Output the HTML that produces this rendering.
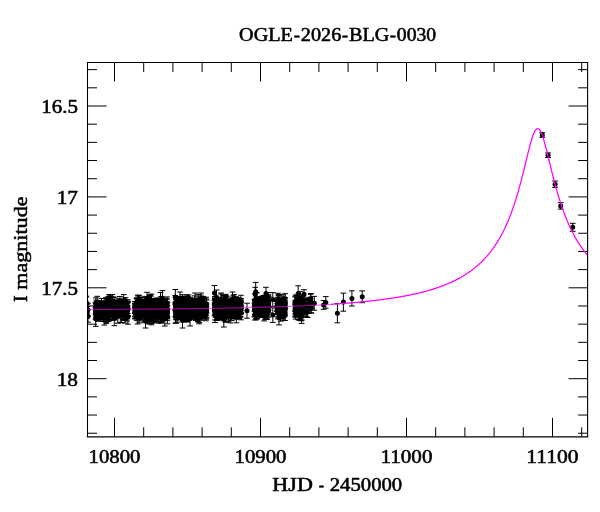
<!DOCTYPE html>
<html><head><meta charset="utf-8"><title>OGLE-2026-BLG-0030</title>
<style>html,body{margin:0;padding:0;background:#fff}svg{display:block}</style></head>
<body>
<svg width="600" height="512" viewBox="0 0 600 512">
<rect width="600" height="512" fill="#fff"/>
<path d="M114.50 436.8v-19M114.50 62.5v19M143.70 436.8v-9.5M143.70 62.5v9.5M172.90 436.8v-9.5M172.90 62.5v9.5M202.10 436.8v-9.5M202.10 62.5v9.5M231.30 436.8v-9.5M231.30 62.5v9.5M260.50 436.8v-19M260.50 62.5v19M289.70 436.8v-9.5M289.70 62.5v9.5M318.90 436.8v-9.5M318.90 62.5v9.5M348.10 436.8v-9.5M348.10 62.5v9.5M377.30 436.8v-9.5M377.30 62.5v9.5M406.50 436.8v-19M406.50 62.5v19M435.70 436.8v-9.5M435.70 62.5v9.5M464.90 436.8v-9.5M464.90 62.5v9.5M494.10 436.8v-9.5M494.10 62.5v9.5M523.30 436.8v-9.5M523.30 62.5v9.5M552.50 436.8v-19M552.50 62.5v19M581.70 436.8v-9.5M581.70 62.5v9.5M87.5 69.64h9.5M587.6 69.64h-9.5M87.5 87.82h9.5M587.6 87.82h-9.5M87.5 106.00h19M587.6 106.00h-19M87.5 124.18h9.5M587.6 124.18h-9.5M87.5 142.36h9.5M587.6 142.36h-9.5M87.5 160.54h9.5M587.6 160.54h-9.5M87.5 178.72h9.5M587.6 178.72h-9.5M87.5 196.90h19M587.6 196.90h-19M87.5 215.08h9.5M587.6 215.08h-9.5M87.5 233.26h9.5M587.6 233.26h-9.5M87.5 251.44h9.5M587.6 251.44h-9.5M87.5 269.62h9.5M587.6 269.62h-9.5M87.5 287.80h19M587.6 287.80h-19M87.5 305.98h9.5M587.6 305.98h-9.5M87.5 324.16h9.5M587.6 324.16h-9.5M87.5 342.34h9.5M587.6 342.34h-9.5M87.5 360.52h9.5M587.6 360.52h-9.5M87.5 378.70h19M587.6 378.70h-19M87.5 396.88h9.5M587.6 396.88h-9.5M87.5 415.06h9.5M587.6 415.06h-9.5M87.5 433.24h9.5M587.6 433.24h-9.5" stroke="#000" stroke-width="1" fill="none"/>
<g clip-path="url(#cp)">
<path d="M85.8 304.5v12.5M83.0 304.5h5.7M83.0 317.0h5.7M85.9 302.8v13.2M83.1 302.8h5.7M83.1 316.0h5.7M86.5 302.8v10.1M83.6 302.8h5.7M83.6 313.0h5.7M86.5 297.0v12.1M83.6 297.0h5.7M83.6 309.1h5.7M86.1 304.2v12.6M83.3 304.2h5.7M83.3 316.8h5.7M86.0 296.1v11.8M83.2 296.1h5.7M83.2 307.9h5.7M86.1 304.6v10.6M83.3 304.6h5.7M83.3 315.2h5.7M85.7 304.4v11.2M82.9 304.4h5.7M82.9 315.6h5.7M87.4 304.1v11.6M84.5 304.1h5.7M84.5 315.7h5.7M87.9 303.2v13.0M85.1 303.2h5.7M85.1 316.3h5.7M87.2 306.5v11.7M84.3 306.5h5.7M84.3 318.1h5.7M88.0 309.8v12.4M85.1 309.8h5.7M85.1 322.2h5.7M95.7 302.8v12.1M92.9 302.8h5.7M92.9 314.9h5.7M96.5 300.2v10.3M93.6 300.2h5.7M93.6 310.4h5.7M95.8 297.9v10.6M93.0 297.9h5.7M93.0 308.5h5.7M95.6 307.5v11.9M92.8 307.5h5.7M92.8 319.4h5.7M96.4 302.9v10.9M93.6 302.9h5.7M93.6 313.7h5.7M95.7 302.7v10.8M92.8 302.7h5.7M92.8 313.5h5.7M95.7 303.6v10.9M92.8 303.6h5.7M92.8 314.5h5.7M96.1 304.1v10.7M93.2 304.1h5.7M93.2 314.8h5.7M95.7 306.0v11.1M92.9 306.0h5.7M92.9 317.1h5.7M96.0 302.3v12.3M93.1 302.3h5.7M93.1 314.5h5.7M96.3 306.4v9.7M93.4 306.4h5.7M93.4 316.2h5.7M97.9 302.7v12.8M95.0 302.7h5.7M95.0 315.6h5.7M97.7 304.5v11.7M94.9 304.5h5.7M94.9 316.3h5.7M97.7 303.7v12.9M94.9 303.7h5.7M94.9 316.6h5.7M97.7 303.9v10.3M94.9 303.9h5.7M94.9 314.2h5.7M97.2 305.7v10.2M94.3 305.7h5.7M94.3 315.8h5.7M97.1 296.3v13.7M94.3 296.3h5.7M94.3 310.0h5.7M97.5 305.8v13.0M94.7 305.8h5.7M94.7 318.7h5.7M97.9 306.7v14.6M95.0 306.7h5.7M95.0 321.3h5.7M97.4 302.2v12.6M94.6 302.2h5.7M94.6 314.8h5.7M97.7 307.4v12.1M94.8 307.4h5.7M94.8 319.5h5.7M97.8 300.6v12.0M95.0 300.6h5.7M95.0 312.6h5.7M97.0 307.7v12.6M94.2 307.7h5.7M94.2 320.3h5.7M97.9 303.5v11.9M95.0 303.5h5.7M95.0 315.5h5.7M99.2 303.8v13.7M96.4 303.8h5.7M96.4 317.4h5.7M99.0 303.1v11.3M96.1 303.1h5.7M96.1 314.4h5.7M99.3 305.9v12.0M96.5 305.9h5.7M96.5 317.9h5.7M99.0 300.6v12.6M96.1 300.6h5.7M96.1 313.2h5.7M98.8 303.6v10.7M95.9 303.6h5.7M95.9 314.3h5.7M99.1 308.3v11.4M96.2 308.3h5.7M96.2 319.7h5.7M99.2 303.6v11.5M96.3 303.6h5.7M96.3 315.1h5.7M99.3 305.7v11.7M96.4 305.7h5.7M96.4 317.4h5.7M100.5 302.5v12.9M97.6 302.5h5.7M97.6 315.4h5.7M100.7 305.6v13.3M97.9 305.6h5.7M97.9 319.0h5.7M100.5 309.3v10.8M97.6 309.3h5.7M97.6 320.0h5.7M100.4 304.5v13.3M97.5 304.5h5.7M97.5 317.8h5.7M100.8 309.1v10.9M97.9 309.1h5.7M97.9 320.0h5.7M100.1 306.7v11.0M97.3 306.7h5.7M97.3 317.8h5.7M101.9 302.8v12.9M99.0 302.8h5.7M99.0 315.7h5.7M102.0 301.5v11.2M99.2 301.5h5.7M99.2 312.7h5.7M102.1 304.4v11.4M99.2 304.4h5.7M99.2 315.8h5.7M101.3 303.2v14.8M98.4 303.2h5.7M98.4 318.0h5.7M101.8 306.4v12.3M98.9 306.4h5.7M98.9 318.7h5.7M101.5 298.4v11.8M98.6 298.4h5.7M98.6 310.3h5.7M101.3 302.9v12.5M98.5 302.9h5.7M98.5 315.4h5.7M101.9 307.3v12.4M99.0 307.3h5.7M99.0 319.6h5.7M101.6 302.0v10.0M98.7 302.0h5.7M98.7 312.0h5.7M101.5 301.2v11.8M98.6 301.2h5.7M98.6 312.9h5.7M101.3 304.1v11.0M98.5 304.1h5.7M98.5 315.1h5.7M103.6 305.0v10.2M100.7 305.0h5.7M100.7 315.2h5.7M103.5 300.9v12.6M100.6 300.9h5.7M100.6 313.5h5.7M103.1 303.3v11.4M100.2 303.3h5.7M100.2 314.7h5.7M103.4 308.5v13.0M100.5 308.5h5.7M100.5 321.5h5.7M103.4 306.0v11.8M100.6 306.0h5.7M100.6 317.8h5.7M104.3 303.2v9.4M101.4 303.2h5.7M101.4 312.6h5.7M104.8 308.4v10.7M102.0 308.4h5.7M102.0 319.1h5.7M104.9 306.3v9.9M102.1 306.3h5.7M102.1 316.2h5.7M104.7 303.9v9.6M101.9 303.9h5.7M101.9 313.5h5.7M104.8 308.4v10.3M102.0 308.4h5.7M102.0 318.8h5.7M104.5 303.2v9.2M101.6 303.2h5.7M101.6 312.4h5.7M104.9 305.9v9.9M102.1 305.9h5.7M102.1 315.7h5.7M104.6 301.5v9.7M101.8 301.5h5.7M101.8 311.2h5.7M106.5 301.9v12.6M103.7 301.9h5.7M103.7 314.5h5.7M106.0 303.3v12.1M103.1 303.3h5.7M103.1 315.5h5.7M106.4 310.4v13.1M103.6 310.4h5.7M103.6 323.4h5.7M105.6 298.5v13.8M102.7 298.5h5.7M102.7 312.4h5.7M105.8 297.8v14.8M103.0 297.8h5.7M103.0 312.6h5.7M106.0 306.1v14.8M103.1 306.1h5.7M103.1 320.9h5.7M106.4 304.1v14.8M103.6 304.1h5.7M103.6 318.9h5.7M105.9 301.3v11.7M103.1 301.3h5.7M103.1 313.0h5.7M106.0 307.7v14.7M103.2 307.7h5.7M103.2 322.3h5.7M106.4 299.8v12.8M103.5 299.8h5.7M103.5 312.5h5.7M107.1 305.6v10.3M104.2 305.6h5.7M104.2 316.0h5.7M107.2 305.7v13.6M104.3 305.7h5.7M104.3 319.3h5.7M107.5 297.1v12.3M104.6 297.1h5.7M104.6 309.4h5.7M107.0 304.3v14.8M104.1 304.3h5.7M104.1 319.1h5.7M107.0 301.0v11.3M104.2 301.0h5.7M104.2 312.2h5.7M107.8 303.1v11.3M105.0 303.1h5.7M105.0 314.4h5.7M107.7 298.2v14.1M104.9 298.2h5.7M104.9 312.3h5.7M107.6 307.2v12.1M104.8 307.2h5.7M104.8 319.4h5.7M107.1 302.8v12.3M104.3 302.8h5.7M104.3 315.1h5.7M107.9 299.2v11.0M105.0 299.2h5.7M105.0 310.2h5.7M109.1 294.8v14.8M106.2 294.8h5.7M106.2 309.6h5.7M109.1 308.0v12.8M106.2 308.0h5.7M106.2 320.8h5.7M109.2 297.8v14.8M106.3 297.8h5.7M106.3 312.6h5.7M108.4 309.1v12.5M105.6 309.1h5.7M105.6 321.6h5.7M108.8 296.7v12.8M105.9 296.7h5.7M105.9 309.5h5.7M109.1 297.3v14.7M106.3 297.3h5.7M106.3 312.0h5.7M108.9 299.1v12.7M106.1 299.1h5.7M106.1 311.8h5.7M108.8 302.9v12.6M106.0 302.9h5.7M106.0 315.5h5.7M108.5 302.2v12.0M105.6 302.2h5.7M105.6 314.2h5.7M108.6 302.0v14.5M105.7 302.0h5.7M105.7 316.4h5.7M108.8 303.2v12.5M106.0 303.2h5.7M106.0 315.6h5.7M108.9 306.3v12.7M106.1 306.3h5.7M106.1 318.9h5.7M110.3 295.1v14.1M107.4 295.1h5.7M107.4 309.2h5.7M110.7 296.9v12.7M107.8 296.9h5.7M107.8 309.6h5.7M110.5 297.5v14.7M107.6 297.5h5.7M107.6 312.2h5.7M110.2 299.1v14.8M107.4 299.1h5.7M107.4 313.9h5.7M110.1 304.7v12.9M107.3 304.7h5.7M107.3 317.5h5.7M110.3 294.6v14.8M107.4 294.6h5.7M107.4 309.4h5.7M110.8 303.3v14.1M107.9 303.3h5.7M107.9 317.4h5.7M110.1 302.2v14.8M107.2 302.2h5.7M107.2 317.0h5.7M110.5 296.7v12.8M107.7 296.7h5.7M107.7 309.5h5.7M110.0 305.0v14.8M107.2 305.0h5.7M107.2 319.8h5.7M110.6 297.0v13.7M107.8 297.0h5.7M107.8 310.7h5.7M110.3 294.5v14.8M107.4 294.5h5.7M107.4 309.3h5.7M110.0 307.2v12.7M107.2 307.2h5.7M107.2 319.9h5.7M110.6 296.9v12.8M107.7 296.9h5.7M107.7 309.8h5.7M110.6 305.8v13.6M107.8 305.8h5.7M107.8 319.5h5.7M111.6 303.8v10.8M108.7 303.8h5.7M108.7 314.6h5.7M111.7 304.0v10.3M108.8 304.0h5.7M108.8 314.3h5.7M111.4 303.2v11.7M108.6 303.2h5.7M108.6 314.9h5.7M112.0 301.8v10.4M109.2 301.8h5.7M109.2 312.2h5.7M111.9 301.7v11.7M109.1 301.7h5.7M109.1 313.5h5.7M112.0 299.2v11.5M109.2 299.2h5.7M109.2 310.7h5.7M111.7 301.8v11.1M108.8 301.8h5.7M108.8 312.9h5.7M111.7 303.9v11.6M108.8 303.9h5.7M108.8 315.5h5.7M111.4 302.5v11.1M108.5 302.5h5.7M108.5 313.5h5.7M112.2 303.1v10.9M109.4 303.1h5.7M109.4 313.9h5.7M112.9 297.0v13.1M110.0 297.0h5.7M110.0 310.0h5.7M113.1 303.9v13.0M110.2 303.9h5.7M110.2 316.8h5.7M113.6 301.8v13.3M110.8 301.8h5.7M110.8 315.1h5.7M112.7 304.8v10.7M109.9 304.8h5.7M109.9 315.4h5.7M113.5 306.6v13.7M110.6 306.6h5.7M110.6 320.3h5.7M114.4 302.8v12.4M111.6 302.8h5.7M111.6 315.2h5.7M114.8 300.3v13.2M112.0 300.3h5.7M112.0 313.5h5.7M115.0 302.8v13.9M112.1 302.8h5.7M112.1 316.7h5.7M114.2 302.4v13.6M111.3 302.4h5.7M111.3 315.9h5.7M114.4 306.6v13.2M111.6 306.6h5.7M111.6 319.8h5.7M114.4 304.9v11.4M111.5 304.9h5.7M111.5 316.4h5.7M115.0 305.1v12.6M112.1 305.1h5.7M112.1 317.7h5.7M114.9 297.2v12.2M112.1 297.2h5.7M112.1 309.4h5.7M114.9 301.3v9.9M112.1 301.3h5.7M112.1 311.2h5.7M114.4 306.0v13.1M111.5 306.0h5.7M111.5 319.1h5.7M114.8 302.5v13.6M112.0 302.5h5.7M112.0 316.1h5.7M115.9 304.0v10.5M113.0 304.0h5.7M113.0 314.5h5.7M116.4 304.1v9.6M113.6 304.1h5.7M113.6 313.7h5.7M116.2 308.2v9.6M113.3 308.2h5.7M113.3 317.8h5.7M116.3 302.0v9.5M113.4 302.0h5.7M113.4 311.5h5.7M115.6 306.2v10.7M112.7 306.2h5.7M112.7 316.8h5.7M115.8 301.9v10.0M112.9 301.9h5.7M112.9 311.8h5.7M116.0 299.9v10.6M113.2 299.9h5.7M113.2 310.5h5.7M117.4 304.0v12.1M114.6 304.0h5.7M114.6 316.1h5.7M117.9 304.4v11.8M115.0 304.4h5.7M115.0 316.2h5.7M117.5 301.0v14.1M114.6 301.0h5.7M114.6 315.1h5.7M117.8 300.5v14.5M114.9 300.5h5.7M114.9 315.0h5.7M117.8 310.1v13.0M115.0 310.1h5.7M115.0 323.2h5.7M118.8 303.4v13.4M116.0 303.4h5.7M116.0 316.8h5.7M119.0 305.3v11.6M116.1 305.3h5.7M116.1 316.9h5.7M119.1 298.7v14.0M116.2 298.7h5.7M116.2 312.7h5.7M119.2 300.6v12.2M116.3 300.6h5.7M116.3 312.8h5.7M119.0 306.5v10.7M116.1 306.5h5.7M116.1 317.2h5.7M118.9 300.6v14.8M116.1 300.6h5.7M116.1 315.4h5.7M119.2 302.2v13.5M116.4 302.2h5.7M116.4 315.7h5.7M119.1 302.4v12.2M116.3 302.4h5.7M116.3 314.6h5.7M118.8 304.4v13.5M115.9 304.4h5.7M115.9 317.8h5.7M120.2 303.2v9.9M117.3 303.2h5.7M117.3 313.1h5.7M120.8 301.1v11.5M117.9 301.1h5.7M117.9 312.6h5.7M120.3 303.6v9.2M117.5 303.6h5.7M117.5 312.8h5.7M120.3 303.6v13.1M117.4 303.6h5.7M117.4 316.7h5.7M120.8 304.5v9.8M118.0 304.5h5.7M118.0 314.3h5.7M120.6 299.6v11.3M117.8 299.6h5.7M117.8 310.9h5.7M119.9 296.5v12.2M117.0 296.5h5.7M117.0 308.7h5.7M120.3 304.5v11.7M117.4 304.5h5.7M117.4 316.2h5.7M121.7 309.2v13.6M118.9 309.2h5.7M118.9 322.8h5.7M121.6 300.1v13.7M118.7 300.1h5.7M118.7 313.9h5.7M122.0 303.2v11.7M119.2 303.2h5.7M119.2 314.9h5.7M122.0 301.8v12.0M119.2 301.8h5.7M119.2 313.8h5.7M122.8 309.0v10.5M120.0 309.0h5.7M120.0 319.5h5.7M122.8 301.2v12.9M120.0 301.2h5.7M120.0 314.1h5.7M122.8 301.8v10.7M119.9 301.8h5.7M119.9 312.5h5.7M122.7 304.8v12.8M119.9 304.8h5.7M119.9 317.6h5.7M122.8 306.2v10.9M119.9 306.2h5.7M119.9 317.1h5.7M123.3 305.9v10.2M120.4 305.9h5.7M120.4 316.1h5.7M123.7 303.3v9.6M120.9 303.3h5.7M120.9 312.9h5.7M123.1 304.7v11.6M120.3 304.7h5.7M120.3 316.3h5.7M123.7 303.9v9.6M120.8 303.9h5.7M120.8 313.4h5.7M124.9 307.3v12.1M122.0 307.3h5.7M122.0 319.4h5.7M124.9 305.6v10.0M122.1 305.6h5.7M122.1 315.6h5.7M124.4 302.5v11.8M121.6 302.5h5.7M121.6 314.3h5.7M124.5 308.8v11.7M121.7 308.8h5.7M121.7 320.5h5.7M124.3 298.1v11.3M121.5 298.1h5.7M121.5 309.3h5.7M124.9 301.1v11.7M122.0 301.1h5.7M122.0 312.8h5.7M124.2 305.7v10.8M121.3 305.7h5.7M121.3 316.5h5.7M124.4 305.3v14.5M121.5 305.3h5.7M121.5 319.7h5.7M124.7 302.4v10.6M121.9 302.4h5.7M121.9 313.1h5.7M124.2 300.0v11.0M121.4 300.0h5.7M121.4 311.1h5.7M124.4 300.8v10.5M121.5 300.8h5.7M121.5 311.3h5.7M125.6 305.8v11.2M122.8 305.8h5.7M122.8 317.0h5.7M125.8 299.8v13.5M122.9 299.8h5.7M122.9 313.4h5.7M125.6 307.5v11.3M122.7 307.5h5.7M122.7 318.8h5.7M125.8 301.4v11.7M122.9 301.4h5.7M122.9 313.1h5.7M125.8 306.2v11.3M123.0 306.2h5.7M123.0 317.5h5.7M126.2 303.7v13.3M123.4 303.7h5.7M123.4 317.0h5.7M125.6 297.7v11.6M122.7 297.7h5.7M122.7 309.2h5.7M125.7 302.9v13.4M122.8 302.9h5.7M122.8 316.3h5.7M125.7 306.7v10.6M122.9 306.7h5.7M122.9 317.3h5.7M127.5 303.1v13.2M124.7 303.1h5.7M124.7 316.3h5.7M127.1 301.9v14.5M124.2 301.9h5.7M124.2 316.5h5.7M127.8 301.2v14.3M125.0 301.2h5.7M125.0 315.5h5.7M127.2 303.9v12.0M124.3 303.9h5.7M124.3 316.0h5.7M128.0 309.4v14.8M125.1 309.4h5.7M125.1 324.2h5.7M127.4 305.3v13.6M124.6 305.3h5.7M124.6 318.9h5.7M127.0 309.3v11.7M124.2 309.3h5.7M124.2 321.0h5.7M127.7 301.7v14.8M124.9 301.7h5.7M124.9 316.5h5.7M127.9 299.8v13.8M125.0 299.8h5.7M125.0 313.6h5.7M127.9 302.4v14.0M125.1 302.4h5.7M125.1 316.4h5.7M135.1 308.1v10.2M132.3 308.1h5.7M132.3 318.3h5.7M135.4 301.8v10.6M132.6 301.8h5.7M132.6 312.4h5.7M135.5 303.7v10.3M132.7 303.7h5.7M132.7 314.1h5.7M134.9 305.7v13.2M132.0 305.7h5.7M132.0 318.9h5.7M135.2 304.2v12.6M132.4 304.2h5.7M132.4 316.9h5.7M135.4 304.5v11.8M132.5 304.5h5.7M132.5 316.3h5.7M134.7 301.6v11.9M131.9 301.6h5.7M131.9 313.5h5.7M135.2 301.6v11.3M132.4 301.6h5.7M132.4 313.0h5.7M134.9 303.5v12.8M132.0 303.5h5.7M132.0 316.3h5.7M136.5 303.6v14.7M133.7 303.6h5.7M133.7 318.3h5.7M136.4 307.8v10.8M133.6 307.8h5.7M133.6 318.6h5.7M136.8 297.8v14.8M134.0 297.8h5.7M134.0 312.6h5.7M137.0 298.6v14.3M134.2 298.6h5.7M134.2 312.9h5.7M137.1 299.8v11.7M134.3 299.8h5.7M134.3 311.5h5.7M137.0 303.7v14.8M134.2 303.7h5.7M134.2 318.5h5.7M136.7 306.4v13.8M133.8 306.4h5.7M133.8 320.2h5.7M136.3 304.0v14.8M133.4 304.0h5.7M133.4 318.8h5.7M136.3 301.4v13.6M133.4 301.4h5.7M133.4 315.1h5.7M136.3 298.3v14.8M133.4 298.3h5.7M133.4 313.1h5.7M136.6 304.6v12.7M133.7 304.6h5.7M133.7 317.4h5.7M137.7 295.1v13.3M134.9 295.1h5.7M134.9 308.3h5.7M137.9 300.3v12.5M135.0 300.3h5.7M135.0 312.9h5.7M137.8 298.7v10.6M134.9 298.7h5.7M134.9 309.3h5.7M138.1 296.0v11.6M135.2 296.0h5.7M135.2 307.6h5.7M137.7 298.6v13.6M134.8 298.6h5.7M134.8 312.2h5.7M138.2 304.1v12.4M135.3 304.1h5.7M135.3 316.5h5.7M138.2 303.8v14.8M135.4 303.8h5.7M135.4 318.6h5.7M138.0 303.8v11.6M135.1 303.8h5.7M135.1 315.4h5.7M138.2 301.4v13.8M135.3 301.4h5.7M135.3 315.2h5.7M137.8 310.3v10.3M135.0 310.3h5.7M135.0 320.7h5.7M138.0 306.2v12.4M135.2 306.2h5.7M135.2 318.6h5.7M137.8 302.7v11.1M134.9 302.7h5.7M134.9 313.8h5.7M140.0 297.8v11.7M137.2 297.8h5.7M137.2 309.5h5.7M139.5 305.9v11.8M136.7 305.9h5.7M136.7 317.7h5.7M139.2 308.8v14.0M136.4 308.8h5.7M136.4 322.8h5.7M139.6 305.3v13.9M136.8 305.3h5.7M136.8 319.2h5.7M139.4 299.6v12.4M136.5 299.6h5.7M136.5 312.0h5.7M139.4 309.6v9.6M136.6 309.6h5.7M136.6 319.2h5.7M139.9 302.1v12.3M137.1 302.1h5.7M137.1 314.3h5.7M139.8 304.0v12.3M137.0 304.0h5.7M137.0 316.3h5.7M139.1 295.4v12.5M136.3 295.4h5.7M136.3 307.9h5.7M139.5 303.2v12.8M136.6 303.2h5.7M136.6 316.0h5.7M141.2 306.1v11.0M138.3 306.1h5.7M138.3 317.1h5.7M140.8 299.6v11.4M138.0 299.6h5.7M138.0 311.0h5.7M141.4 302.3v12.6M138.6 302.3h5.7M138.6 314.9h5.7M140.8 304.9v11.8M138.0 304.9h5.7M138.0 316.7h5.7M141.0 303.2v11.1M138.1 303.2h5.7M138.1 314.3h5.7M140.8 299.2v12.9M137.9 299.2h5.7M137.9 312.1h5.7M141.4 301.3v10.9M138.5 301.3h5.7M138.5 312.2h5.7M140.9 304.4v10.6M138.1 304.4h5.7M138.1 315.0h5.7M141.1 302.2v8.9M138.2 302.2h5.7M138.2 311.1h5.7M140.9 297.0v11.4M138.0 297.0h5.7M138.0 308.4h5.7M141.2 306.3v9.9M138.3 306.3h5.7M138.3 316.2h5.7M141.0 309.0v11.8M138.1 309.0h5.7M138.1 320.8h5.7M140.6 301.2v12.6M137.8 301.2h5.7M137.8 313.8h5.7M141.3 307.6v11.6M138.5 307.6h5.7M138.5 319.1h5.7M142.4 299.8v12.7M139.6 299.8h5.7M139.6 312.4h5.7M142.6 303.7v14.1M139.7 303.7h5.7M139.7 317.8h5.7M142.1 300.8v10.8M139.2 300.8h5.7M139.2 311.6h5.7M142.9 304.7v12.9M140.1 304.7h5.7M140.1 317.5h5.7M142.8 301.4v12.8M140.0 301.4h5.7M140.0 314.2h5.7M142.5 300.8v12.5M139.6 300.8h5.7M139.6 313.3h5.7M142.0 297.6v14.8M139.2 297.6h5.7M139.2 312.4h5.7M142.6 301.4v13.1M139.8 301.4h5.7M139.8 314.5h5.7M144.3 303.1v11.0M141.5 303.1h5.7M141.5 314.1h5.7M144.1 303.5v12.7M141.2 303.5h5.7M141.2 316.3h5.7M144.1 300.9v13.1M141.2 300.9h5.7M141.2 314.0h5.7M145.1 301.6v14.8M142.3 301.6h5.7M142.3 316.4h5.7M145.0 302.1v13.5M142.2 302.1h5.7M142.2 315.6h5.7M145.4 304.0v13.5M142.6 304.0h5.7M142.6 317.4h5.7M144.9 309.1v13.7M142.1 309.1h5.7M142.1 322.8h5.7M145.6 299.9v11.8M142.7 299.9h5.7M142.7 311.7h5.7M144.9 307.2v14.1M142.0 307.2h5.7M142.0 321.3h5.7M144.9 304.3v14.8M142.1 304.3h5.7M142.1 319.1h5.7M145.8 299.8v13.3M142.9 299.8h5.7M142.9 313.2h5.7M145.4 304.2v14.8M142.5 304.2h5.7M142.5 319.0h5.7M145.6 306.3v14.8M142.7 306.3h5.7M142.7 321.1h5.7M145.5 296.4v13.6M142.7 296.4h5.7M142.7 310.0h5.7M146.5 302.7v14.2M143.7 302.7h5.7M143.7 316.9h5.7M146.6 297.6v14.8M143.7 297.6h5.7M143.7 312.4h5.7M146.6 298.2v13.0M143.8 298.2h5.7M143.8 311.2h5.7M146.6 299.7v13.7M143.8 299.7h5.7M143.8 313.4h5.7M146.9 299.3v13.0M144.1 299.3h5.7M144.1 312.3h5.7M147.2 300.2v13.2M144.4 300.2h5.7M144.4 313.4h5.7M146.9 310.7v11.9M144.0 310.7h5.7M144.0 322.6h5.7M147.0 302.6v12.6M144.1 302.6h5.7M144.1 315.2h5.7M146.9 305.2v14.3M144.1 305.2h5.7M144.1 319.5h5.7M147.1 300.9v12.1M144.2 300.9h5.7M144.2 313.0h5.7M146.6 304.0v14.5M143.7 304.0h5.7M143.7 318.4h5.7M146.9 305.6v14.6M144.1 305.6h5.7M144.1 320.2h5.7M148.5 303.8v11.9M145.6 303.8h5.7M145.6 315.7h5.7M148.1 309.6v10.5M145.2 309.6h5.7M145.2 320.1h5.7M148.2 299.5v12.8M145.4 299.5h5.7M145.4 312.3h5.7M148.4 302.1v13.5M145.5 302.1h5.7M145.5 315.7h5.7M148.1 307.1v11.9M145.2 307.1h5.7M145.2 319.0h5.7M148.3 305.0v9.4M145.4 305.0h5.7M145.4 314.5h5.7M147.9 302.7v14.5M145.1 302.7h5.7M145.1 317.1h5.7M148.4 304.6v10.9M145.5 304.6h5.7M145.5 315.4h5.7M147.8 309.2v12.6M145.0 309.2h5.7M145.0 321.8h5.7M148.6 296.5v13.7M145.8 296.5h5.7M145.8 310.2h5.7M149.4 298.8v13.8M146.6 298.8h5.7M146.6 312.6h5.7M149.3 299.0v13.8M146.4 299.0h5.7M146.4 312.8h5.7M150.1 300.4v13.0M147.3 300.4h5.7M147.3 313.4h5.7M150.1 294.4v14.8M147.3 294.4h5.7M147.3 309.2h5.7M149.4 309.8v13.5M146.5 309.8h5.7M146.5 323.4h5.7M150.1 305.8v14.8M147.2 305.8h5.7M147.2 320.6h5.7M149.2 309.2v14.8M146.3 309.2h5.7M146.3 324.0h5.7M150.0 295.8v14.8M147.1 295.8h5.7M147.1 310.6h5.7M149.8 295.8v14.3M147.0 295.8h5.7M147.0 310.1h5.7M151.4 294.2v14.8M148.6 294.2h5.7M148.6 309.0h5.7M151.3 305.3v14.6M148.4 305.3h5.7M148.4 319.9h5.7M151.3 303.9v11.5M148.4 303.9h5.7M148.4 315.4h5.7M150.9 301.5v9.8M148.1 301.5h5.7M148.1 311.4h5.7M151.0 304.3v14.8M148.1 304.3h5.7M148.1 319.1h5.7M151.3 307.1v14.8M148.4 307.1h5.7M148.4 321.9h5.7M150.8 303.3v11.5M148.0 303.3h5.7M148.0 314.8h5.7M151.0 296.1v10.9M148.1 296.1h5.7M148.1 307.0h5.7M151.4 299.0v12.8M148.5 299.0h5.7M148.5 311.8h5.7M151.4 308.8v14.6M148.5 308.8h5.7M148.5 323.5h5.7M152.5 299.6v10.9M149.6 299.6h5.7M149.6 310.5h5.7M152.1 310.1v12.9M149.3 310.1h5.7M149.3 323.0h5.7M153.0 305.5v12.0M150.1 305.5h5.7M150.1 317.5h5.7M152.6 303.7v12.7M149.7 303.7h5.7M149.7 316.4h5.7M153.0 301.1v11.9M150.1 301.1h5.7M150.1 313.0h5.7M152.1 302.2v10.7M149.3 302.2h5.7M149.3 312.9h5.7M152.1 299.5v12.5M149.2 299.5h5.7M149.2 312.0h5.7M152.8 298.4v11.4M150.0 298.4h5.7M150.0 309.8h5.7M152.5 304.5v14.4M149.7 304.5h5.7M149.7 318.9h5.7M152.8 300.8v14.1M150.0 300.8h5.7M150.0 314.9h5.7M153.8 305.0v11.1M150.9 305.0h5.7M150.9 316.0h5.7M153.6 302.7v13.3M150.7 302.7h5.7M150.7 315.9h5.7M154.2 305.4v8.8M151.3 305.4h5.7M151.3 314.2h5.7M153.6 308.2v9.8M150.7 308.2h5.7M150.7 318.0h5.7M153.8 304.0v9.7M150.9 304.0h5.7M150.9 313.7h5.7M154.2 302.3v10.3M151.3 302.3h5.7M151.3 312.6h5.7M154.3 305.9v10.2M151.4 305.9h5.7M151.4 316.1h5.7M153.8 304.6v10.7M151.0 304.6h5.7M151.0 315.3h5.7M154.4 310.7v11.7M151.5 310.7h5.7M151.5 322.4h5.7M155.3 302.9v10.9M152.5 302.9h5.7M152.5 313.8h5.7M155.4 303.6v14.5M152.5 303.6h5.7M152.5 318.1h5.7M155.4 308.2v12.1M152.6 308.2h5.7M152.6 320.3h5.7M155.0 311.1v10.9M152.2 311.1h5.7M152.2 322.0h5.7M155.1 308.5v12.9M152.3 308.5h5.7M152.3 321.4h5.7M155.3 307.7v11.6M152.4 307.7h5.7M152.4 319.3h5.7M155.0 300.2v11.5M152.1 300.2h5.7M152.1 311.7h5.7M155.5 302.3v12.5M152.6 302.3h5.7M152.6 314.8h5.7M157.2 304.0v12.8M154.4 304.0h5.7M154.4 316.8h5.7M156.9 298.0v13.1M154.0 298.0h5.7M154.0 311.2h5.7M157.2 302.1v12.4M154.4 302.1h5.7M154.4 314.5h5.7M156.8 300.0v14.8M153.9 300.0h5.7M153.9 314.8h5.7M157.3 306.6v11.3M154.5 306.6h5.7M154.5 318.0h5.7M157.1 303.8v9.6M154.2 303.8h5.7M154.2 313.4h5.7M156.4 298.8v12.4M153.5 298.8h5.7M153.5 311.2h5.7M156.5 299.1v11.6M153.6 299.1h5.7M153.6 310.6h5.7M157.1 302.1v14.8M154.3 302.1h5.7M154.3 316.9h5.7M157.3 299.3v12.8M154.4 299.3h5.7M154.4 312.1h5.7M156.9 306.1v12.9M154.1 306.1h5.7M154.1 319.0h5.7M158.3 305.2v12.3M155.4 305.2h5.7M155.4 317.5h5.7M158.2 303.9v10.4M155.3 303.9h5.7M155.3 314.3h5.7M158.3 306.0v11.9M155.5 306.0h5.7M155.5 317.8h5.7M158.3 306.8v13.3M155.5 306.8h5.7M155.5 320.0h5.7M158.6 309.9v13.3M155.7 309.9h5.7M155.7 323.2h5.7M158.5 305.2v13.0M155.6 305.2h5.7M155.6 318.1h5.7M159.9 298.0v11.1M157.1 298.0h5.7M157.1 309.1h5.7M159.4 304.3v10.2M156.6 304.3h5.7M156.6 314.4h5.7M159.3 299.4v11.2M156.5 299.4h5.7M156.5 310.6h5.7M159.7 301.3v10.9M156.9 301.3h5.7M156.9 312.1h5.7M161.2 304.2v12.7M158.4 304.2h5.7M158.4 316.9h5.7M161.0 308.4v14.1M158.1 308.4h5.7M158.1 322.5h5.7M161.2 302.5v12.5M158.3 302.5h5.7M158.3 315.0h5.7M160.7 306.1v12.6M157.9 306.1h5.7M157.9 318.7h5.7M161.3 306.9v13.0M158.4 306.9h5.7M158.4 319.9h5.7M161.6 298.6v12.6M158.8 298.6h5.7M158.8 311.2h5.7M161.1 309.9v13.2M158.3 309.9h5.7M158.3 323.1h5.7M161.4 300.1v13.5M158.5 300.1h5.7M158.5 313.5h5.7M161.4 302.3v14.8M158.5 302.3h5.7M158.5 317.1h5.7M161.2 307.5v14.1M158.4 307.5h5.7M158.4 321.6h5.7M161.2 296.6v13.5M158.3 296.6h5.7M158.3 310.2h5.7M162.4 299.4v12.7M159.5 299.4h5.7M159.5 312.1h5.7M163.0 301.8v11.6M160.2 301.8h5.7M160.2 313.5h5.7M163.0 301.9v13.7M160.2 301.9h5.7M160.2 315.6h5.7M162.7 307.6v13.3M159.9 307.6h5.7M159.9 320.9h5.7M162.9 306.4v10.6M160.1 306.4h5.7M160.1 317.0h5.7M162.7 298.6v11.8M159.8 298.6h5.7M159.8 310.4h5.7M162.3 301.0v12.4M159.5 301.0h5.7M159.5 313.4h5.7M164.6 301.4v9.4M161.7 301.4h5.7M161.7 310.8h5.7M164.1 306.1v8.2M161.2 306.1h5.7M161.2 314.4h5.7M164.6 302.8v9.5M161.7 302.8h5.7M161.7 312.3h5.7M164.3 306.7v10.6M161.4 306.7h5.7M161.4 317.2h5.7M164.5 303.6v11.4M161.7 303.6h5.7M161.7 315.1h5.7M163.7 302.8v11.7M160.9 302.8h5.7M160.9 314.5h5.7M164.0 304.5v9.3M161.2 304.5h5.7M161.2 313.9h5.7M164.5 306.7v8.9M161.7 306.7h5.7M161.7 315.7h5.7M165.3 304.2v10.1M162.4 304.2h5.7M162.4 314.3h5.7M165.1 299.4v14.3M162.3 299.4h5.7M162.3 313.6h5.7M165.4 305.1v12.8M162.6 305.1h5.7M162.6 317.9h5.7M165.4 299.3v12.4M162.5 299.3h5.7M162.5 311.7h5.7M166.7 301.6v13.1M163.8 301.6h5.7M163.8 314.8h5.7M167.5 306.0v14.2M164.6 306.0h5.7M164.6 320.2h5.7M167.5 302.1v14.2M164.6 302.1h5.7M164.6 316.4h5.7M167.3 309.0v14.8M164.5 309.0h5.7M164.5 323.8h5.7M167.3 303.1v14.8M164.5 303.1h5.7M164.5 317.9h5.7M167.1 298.2v14.8M164.2 298.2h5.7M164.2 313.0h5.7M166.9 296.9v14.6M164.0 296.9h5.7M164.0 311.5h5.7M166.7 302.8v14.8M163.8 302.8h5.7M163.8 317.6h5.7M166.9 305.5v12.9M164.0 305.5h5.7M164.0 318.4h5.7M166.8 305.4v14.8M163.9 305.4h5.7M163.9 320.2h5.7M166.8 299.7v13.8M164.0 299.7h5.7M164.0 313.5h5.7M175.5 297.6v14.4M172.7 297.6h5.7M172.7 312.0h5.7M175.1 295.6v14.8M172.3 295.6h5.7M172.3 310.4h5.7M175.4 302.9v13.7M172.5 302.9h5.7M172.5 316.6h5.7M175.8 299.7v14.8M173.0 299.7h5.7M173.0 314.5h5.7M175.9 306.9v12.5M173.1 306.9h5.7M173.1 319.3h5.7M175.9 309.1v13.9M173.0 309.1h5.7M173.0 323.0h5.7M175.5 309.4v14.0M172.6 309.4h5.7M172.6 323.3h5.7M175.7 305.7v11.9M172.9 305.7h5.7M172.9 317.6h5.7M176.1 307.0v12.7M173.2 307.0h5.7M173.2 319.8h5.7M176.0 302.7v13.5M173.2 302.7h5.7M173.2 316.3h5.7M175.9 305.6v10.8M173.1 305.6h5.7M173.1 316.4h5.7M176.8 305.4v13.7M173.9 305.4h5.7M173.9 319.2h5.7M177.3 298.6v13.1M174.5 298.6h5.7M174.5 311.7h5.7M176.8 306.6v11.9M174.0 306.6h5.7M174.0 318.6h5.7M177.0 305.3v12.8M174.2 305.3h5.7M174.2 318.0h5.7M177.1 304.1v12.2M174.3 304.1h5.7M174.3 316.3h5.7M177.1 306.5v11.3M174.2 306.5h5.7M174.2 317.8h5.7M177.5 301.9v13.1M174.7 301.9h5.7M174.7 315.0h5.7M177.2 300.8v14.3M174.3 300.8h5.7M174.3 315.1h5.7M177.1 299.0v11.1M174.2 299.0h5.7M174.2 310.1h5.7M177.2 310.0v12.2M174.3 310.0h5.7M174.3 322.2h5.7M177.1 299.3v12.3M174.3 299.3h5.7M174.3 311.6h5.7M178.3 296.4v14.8M175.5 296.4h5.7M175.5 311.2h5.7M178.3 305.2v14.8M175.4 305.2h5.7M175.4 320.0h5.7M178.3 305.4v12.9M175.5 305.4h5.7M175.5 318.3h5.7M178.9 301.9v13.2M176.0 301.9h5.7M176.0 315.1h5.7M178.8 302.8v13.0M175.9 302.8h5.7M175.9 315.7h5.7M178.8 304.0v12.0M175.9 304.0h5.7M175.9 316.1h5.7M178.9 302.4v12.5M176.1 302.4h5.7M176.1 314.8h5.7M178.8 299.1v14.8M175.9 299.1h5.7M175.9 313.9h5.7M178.5 303.9v13.1M175.7 303.9h5.7M175.7 317.0h5.7M179.6 301.1v14.8M176.8 301.1h5.7M176.8 315.9h5.7M179.9 296.7v14.6M177.1 296.7h5.7M177.1 311.3h5.7M180.4 302.0v14.8M177.6 302.0h5.7M177.6 316.8h5.7M180.4 298.6v14.5M177.5 298.6h5.7M177.5 313.1h5.7M179.8 303.6v14.8M176.9 303.6h5.7M176.9 318.4h5.7M180.1 301.0v14.5M177.2 301.0h5.7M177.2 315.5h5.7M179.8 297.3v14.8M176.9 297.3h5.7M176.9 312.1h5.7M179.7 304.4v14.8M176.9 304.4h5.7M176.9 319.2h5.7M180.4 303.0v14.7M177.6 303.0h5.7M177.6 317.7h5.7M180.0 303.9v14.8M177.2 303.9h5.7M177.2 318.7h5.7M181.5 301.9v10.4M178.6 301.9h5.7M178.6 312.2h5.7M181.6 298.9v10.8M178.7 298.9h5.7M178.7 309.7h5.7M181.1 300.3v12.1M178.3 300.3h5.7M178.3 312.5h5.7M181.7 305.7v11.8M178.9 305.7h5.7M178.9 317.5h5.7M181.3 298.8v14.3M178.5 298.8h5.7M178.5 313.1h5.7M181.5 298.8v12.2M178.6 298.8h5.7M178.6 311.1h5.7M181.6 303.2v14.4M178.8 303.2h5.7M178.8 317.6h5.7M182.4 294.7v13.1M179.5 294.7h5.7M179.5 307.8h5.7M182.9 297.3v12.9M180.0 297.3h5.7M180.0 310.2h5.7M182.8 303.2v13.8M179.9 303.2h5.7M179.9 317.0h5.7M183.2 305.2v13.3M180.4 305.2h5.7M180.4 318.5h5.7M182.7 296.8v13.0M179.9 296.8h5.7M179.9 309.8h5.7M183.9 306.3v14.6M181.1 306.3h5.7M181.1 320.9h5.7M184.2 296.3v11.8M181.3 296.3h5.7M181.3 308.1h5.7M184.3 308.3v13.5M181.4 308.3h5.7M181.4 321.9h5.7M183.9 300.0v12.9M181.1 300.0h5.7M181.1 312.9h5.7M185.4 303.3v11.8M182.6 303.3h5.7M182.6 315.2h5.7M185.7 303.5v11.5M182.8 303.5h5.7M182.8 314.9h5.7M185.8 299.3v11.5M183.0 299.3h5.7M183.0 310.8h5.7M185.3 300.8v11.9M182.5 300.8h5.7M182.5 312.7h5.7M185.6 305.0v13.4M182.8 305.0h5.7M182.8 318.4h5.7M186.0 303.3v14.1M183.1 303.3h5.7M183.1 317.5h5.7M186.2 309.6v11.3M183.3 309.6h5.7M183.3 320.8h5.7M185.3 297.9v12.0M182.5 297.9h5.7M182.5 309.9h5.7M186.9 296.2v14.8M184.0 296.2h5.7M184.0 311.0h5.7M187.6 307.5v13.7M184.7 307.5h5.7M184.7 321.3h5.7M187.3 297.3v14.3M184.4 297.3h5.7M184.4 311.6h5.7M187.3 299.0v12.6M184.4 299.0h5.7M184.4 311.6h5.7M187.0 302.5v14.8M184.1 302.5h5.7M184.1 317.3h5.7M186.9 305.0v11.4M184.1 305.0h5.7M184.1 316.4h5.7M187.5 304.2v14.8M184.7 304.2h5.7M184.7 319.0h5.7M187.2 294.8v12.8M184.4 294.8h5.7M184.4 307.6h5.7M187.4 309.4v12.6M184.5 309.4h5.7M184.5 322.0h5.7M187.4 303.5v14.8M184.5 303.5h5.7M184.5 318.3h5.7M188.8 306.3v11.7M185.9 306.3h5.7M185.9 318.0h5.7M188.4 296.6v13.2M185.5 296.6h5.7M185.5 309.8h5.7M189.0 300.4v13.7M186.1 300.4h5.7M186.1 314.1h5.7M188.6 295.0v12.4M185.7 295.0h5.7M185.7 307.4h5.7M188.7 305.0v14.8M185.8 305.0h5.7M185.8 319.8h5.7M188.3 302.9v12.0M185.5 302.9h5.7M185.5 315.0h5.7M189.1 304.0v13.9M186.3 304.0h5.7M186.3 317.8h5.7M188.5 308.5v11.2M185.7 308.5h5.7M185.7 319.8h5.7M188.4 306.1v13.2M185.5 306.1h5.7M185.5 319.3h5.7M188.9 300.3v11.8M186.1 300.3h5.7M186.1 312.1h5.7M188.7 307.3v10.8M185.9 307.3h5.7M185.9 318.1h5.7M189.1 304.3v13.0M186.3 304.3h5.7M186.3 317.3h5.7M188.5 307.5v12.9M185.6 307.5h5.7M185.6 320.4h5.7M188.8 303.4v14.5M185.9 303.4h5.7M185.9 317.9h5.7M188.3 307.1v12.0M185.5 307.1h5.7M185.5 319.2h5.7M188.2 300.3v10.1M185.4 300.3h5.7M185.4 310.4h5.7M190.6 299.5v12.2M187.7 299.5h5.7M187.7 311.7h5.7M189.9 305.0v11.6M187.0 305.0h5.7M187.0 316.6h5.7M190.2 298.9v10.0M187.3 298.9h5.7M187.3 308.9h5.7M190.0 300.0v12.1M187.1 300.0h5.7M187.1 312.1h5.7M190.6 302.2v13.6M187.8 302.2h5.7M187.8 315.8h5.7M190.5 302.0v11.0M187.6 302.0h5.7M187.6 313.0h5.7M189.9 299.9v10.7M187.0 299.9h5.7M187.0 310.5h5.7M190.4 297.6v12.5M187.6 297.6h5.7M187.6 310.2h5.7M190.5 298.7v13.1M187.7 298.7h5.7M187.7 311.8h5.7M189.9 299.1v11.7M187.1 299.1h5.7M187.1 310.8h5.7M190.6 299.2v14.2M187.7 299.2h5.7M187.7 313.4h5.7M189.8 303.8v12.4M186.9 303.8h5.7M186.9 316.1h5.7M192.0 305.4v12.9M189.1 305.4h5.7M189.1 318.4h5.7M192.1 302.8v10.8M189.3 302.8h5.7M189.3 313.7h5.7M191.9 307.7v11.1M189.0 307.7h5.7M189.0 318.8h5.7M191.2 300.2v11.6M188.4 300.2h5.7M188.4 311.8h5.7M191.7 302.2v11.9M188.9 302.2h5.7M188.9 314.0h5.7M191.7 299.3v13.9M188.8 299.3h5.7M188.8 313.2h5.7M193.4 302.9v11.8M190.6 302.9h5.7M190.6 314.7h5.7M192.9 308.5v10.0M190.0 308.5h5.7M190.0 318.5h5.7M193.3 302.3v10.3M190.5 302.3h5.7M190.5 312.6h5.7M193.2 302.9v10.1M190.4 302.9h5.7M190.4 313.0h5.7M192.7 299.3v12.7M189.8 299.3h5.7M189.8 312.0h5.7M193.1 304.5v12.4M190.2 304.5h5.7M190.2 316.9h5.7M193.5 302.7v11.4M190.7 302.7h5.7M190.7 314.1h5.7M193.3 299.9v11.2M190.4 299.9h5.7M190.4 311.1h5.7M192.7 299.5v11.5M189.8 299.5h5.7M189.8 311.1h5.7M194.7 305.1v12.3M191.8 305.1h5.7M191.8 317.4h5.7M194.8 306.5v13.3M191.9 306.5h5.7M191.9 319.8h5.7M194.8 305.8v11.2M192.0 305.8h5.7M192.0 317.1h5.7M194.9 302.3v11.2M192.0 302.3h5.7M192.0 313.4h5.7M194.9 299.8v12.3M192.1 299.8h5.7M192.1 312.1h5.7M194.4 303.0v11.5M191.6 303.0h5.7M191.6 314.5h5.7M194.9 300.7v12.4M192.1 300.7h5.7M192.1 313.1h5.7M194.8 295.9v12.4M192.0 295.9h5.7M192.0 308.3h5.7M195.0 303.7v11.7M192.2 303.7h5.7M192.2 315.4h5.7M194.2 302.4v11.5M191.3 302.4h5.7M191.3 313.9h5.7M194.8 298.7v13.5M192.0 298.7h5.7M192.0 312.2h5.7M194.4 306.0v11.8M191.6 306.0h5.7M191.6 317.8h5.7M194.2 301.7v12.7M191.3 301.7h5.7M191.3 314.3h5.7M194.9 303.8v11.3M192.1 303.8h5.7M192.1 315.1h5.7M195.5 302.7v10.2M192.7 302.7h5.7M192.7 312.9h5.7M196.3 302.5v9.9M193.5 302.5h5.7M193.5 312.5h5.7M196.1 305.0v14.7M193.2 305.0h5.7M193.2 319.7h5.7M195.7 301.4v10.6M192.9 301.4h5.7M192.9 311.9h5.7M196.4 301.9v10.9M193.5 301.9h5.7M193.5 312.8h5.7M195.8 305.6v12.2M192.9 305.6h5.7M192.9 317.9h5.7M196.4 303.1v12.3M193.5 303.1h5.7M193.5 315.4h5.7M195.7 299.6v11.0M192.9 299.6h5.7M192.9 310.6h5.7M195.9 307.4v13.0M193.0 307.4h5.7M193.0 320.4h5.7M196.1 298.8v11.8M193.2 298.8h5.7M193.2 310.5h5.7M195.8 303.2v11.3M192.9 303.2h5.7M192.9 314.5h5.7M195.6 301.0v12.5M192.8 301.0h5.7M192.8 313.6h5.7M195.9 301.9v11.4M193.1 301.9h5.7M193.1 313.3h5.7M197.8 301.6v12.4M194.9 301.6h5.7M194.9 313.9h5.7M197.8 304.1v11.1M195.0 304.1h5.7M195.0 315.1h5.7M197.8 304.5v12.0M195.0 304.5h5.7M195.0 316.5h5.7M197.5 298.8v12.1M194.6 298.8h5.7M194.6 311.0h5.7M197.8 302.2v11.0M195.0 302.2h5.7M195.0 313.2h5.7M197.9 310.3v11.6M195.0 310.3h5.7M195.0 321.8h5.7M197.0 305.4v9.0M194.1 305.4h5.7M194.1 314.3h5.7M197.5 299.4v13.5M194.6 299.4h5.7M194.6 312.9h5.7M197.4 300.1v11.7M194.5 300.1h5.7M194.5 311.8h5.7M197.7 303.0v11.3M194.8 303.0h5.7M194.8 314.2h5.7M197.8 298.2v11.7M195.0 298.2h5.7M195.0 309.8h5.7M197.9 308.8v12.7M195.0 308.8h5.7M195.0 321.5h5.7M197.4 306.0v13.1M194.5 306.0h5.7M194.5 319.1h5.7M198.7 302.5v12.1M195.8 302.5h5.7M195.8 314.6h5.7M199.4 304.8v14.5M196.5 304.8h5.7M196.5 319.3h5.7M199.4 309.7v12.7M196.5 309.7h5.7M196.5 322.4h5.7M199.2 302.9v14.8M196.4 302.9h5.7M196.4 317.7h5.7M198.7 298.8v13.6M195.8 298.8h5.7M195.8 312.4h5.7M198.6 298.3v14.3M195.8 298.3h5.7M195.8 312.6h5.7M199.1 296.9v14.8M196.3 296.9h5.7M196.3 311.7h5.7M199.4 301.1v14.3M196.6 301.1h5.7M196.6 315.4h5.7M198.4 294.4v13.3M195.6 294.4h5.7M195.6 307.7h5.7M199.9 303.8v13.0M197.0 303.8h5.7M197.0 316.7h5.7M200.1 303.4v12.8M197.2 303.4h5.7M197.2 316.2h5.7M200.4 306.8v11.8M197.5 306.8h5.7M197.5 318.6h5.7M200.7 307.0v11.9M197.9 307.0h5.7M197.9 318.9h5.7M200.3 302.5v10.8M197.5 302.5h5.7M197.5 313.3h5.7M200.1 305.2v10.0M197.3 305.2h5.7M197.3 315.2h5.7M200.1 300.2v14.0M197.2 300.2h5.7M197.2 314.2h5.7M200.7 295.1v11.9M197.9 295.1h5.7M197.9 307.0h5.7M200.2 302.5v9.4M197.3 302.5h5.7M197.3 311.8h5.7M200.6 309.3v9.6M197.8 309.3h5.7M197.8 318.9h5.7M200.4 299.4v14.5M197.6 299.4h5.7M197.6 313.9h5.7M200.2 301.4v13.1M197.3 301.4h5.7M197.3 314.4h5.7M201.5 304.9v11.6M198.7 304.9h5.7M198.7 316.5h5.7M202.0 297.9v14.3M199.2 297.9h5.7M199.2 312.2h5.7M202.3 302.9v11.3M199.4 302.9h5.7M199.4 314.2h5.7M202.1 298.7v13.9M199.2 298.7h5.7M199.2 312.6h5.7M201.7 298.4v14.2M198.9 298.4h5.7M198.9 312.6h5.7M202.3 299.1v14.5M199.4 299.1h5.7M199.4 313.5h5.7M202.2 300.8v13.2M199.4 300.8h5.7M199.4 313.9h5.7M202.3 300.5v12.8M199.4 300.5h5.7M199.4 313.3h5.7M201.6 307.7v12.7M198.7 307.7h5.7M198.7 320.3h5.7M201.8 301.6v13.5M198.9 301.6h5.7M198.9 315.1h5.7M201.4 302.2v14.8M198.5 302.2h5.7M198.5 317.0h5.7M202.1 296.8v14.6M199.3 296.8h5.7M199.3 311.4h5.7M202.0 302.8v9.2M199.1 302.8h5.7M199.1 312.0h5.7M202.3 304.5v14.0M199.5 304.5h5.7M199.5 318.5h5.7M203.1 299.7v14.8M200.3 299.7h5.7M200.3 314.5h5.7M203.3 296.4v14.0M200.5 296.4h5.7M200.5 310.4h5.7M204.3 302.4v13.1M201.4 302.4h5.7M201.4 315.5h5.7M204.4 297.8v13.4M201.5 297.8h5.7M201.5 311.1h5.7M204.8 304.0v11.5M202.0 304.0h5.7M202.0 315.5h5.7M204.5 302.2v13.2M201.7 302.2h5.7M201.7 315.4h5.7M204.7 302.8v12.0M201.9 302.8h5.7M201.9 314.9h5.7M205.2 303.1v12.2M202.4 303.1h5.7M202.4 315.3h5.7M204.4 304.6v10.5M201.6 304.6h5.7M201.6 315.1h5.7M205.1 303.7v12.5M202.3 303.7h5.7M202.3 316.2h5.7M204.6 299.1v10.4M201.7 299.1h5.7M201.7 309.5h5.7M204.8 302.7v14.7M201.9 302.7h5.7M201.9 317.4h5.7M206.3 299.0v11.3M203.4 299.0h5.7M203.4 310.3h5.7M205.9 307.0v13.8M203.1 307.0h5.7M203.1 320.8h5.7M206.2 302.9v12.2M203.4 302.9h5.7M203.4 315.2h5.7M206.5 304.0v13.7M203.7 304.0h5.7M203.7 317.7h5.7M206.0 305.4v13.7M203.1 305.4h5.7M203.1 319.2h5.7M206.1 297.2v13.8M203.3 297.2h5.7M203.3 311.0h5.7M206.7 300.0v12.9M203.8 300.0h5.7M203.8 313.0h5.7M206.3 305.0v13.9M203.4 305.0h5.7M203.4 318.9h5.7M205.8 304.5v11.6M202.9 304.5h5.7M202.9 316.1h5.7M214.7 300.1v9.9M211.8 300.1h5.7M211.8 310.0h5.7M214.6 304.0v11.6M211.7 304.0h5.7M211.7 315.6h5.7M215.4 306.1v11.1M212.6 306.1h5.7M212.6 317.2h5.7M214.8 296.6v14.1M212.0 296.6h5.7M212.0 310.6h5.7M215.2 302.5v10.2M212.3 302.5h5.7M212.3 312.7h5.7M215.1 296.9v10.6M212.2 296.9h5.7M212.2 307.5h5.7M215.2 303.1v11.0M212.3 303.1h5.7M212.3 314.0h5.7M214.8 299.0v11.8M212.0 299.0h5.7M212.0 310.8h5.7M215.0 299.5v12.0M212.2 299.5h5.7M212.2 311.6h5.7M215.1 309.0v10.9M212.2 309.0h5.7M212.2 319.9h5.7M215.0 298.6v12.2M212.1 298.6h5.7M212.1 310.8h5.7M214.8 298.1v11.7M212.0 298.1h5.7M212.0 309.8h5.7M216.2 296.2v11.4M213.4 296.2h5.7M213.4 307.7h5.7M216.1 301.1v11.7M213.2 301.1h5.7M213.2 312.9h5.7M216.4 307.7v12.8M213.6 307.7h5.7M213.6 320.5h5.7M216.9 306.4v13.8M214.1 306.4h5.7M214.1 320.2h5.7M216.0 300.4v11.2M213.2 300.4h5.7M213.2 311.6h5.7M217.0 300.0v12.9M214.1 300.0h5.7M214.1 312.9h5.7M216.4 303.6v13.5M213.5 303.6h5.7M213.5 317.1h5.7M216.3 299.3v10.4M213.4 299.3h5.7M213.4 309.7h5.7M216.6 298.5v12.3M213.7 298.5h5.7M213.7 310.9h5.7M217.7 307.8v11.1M214.9 307.8h5.7M214.9 318.9h5.7M218.5 302.7v11.8M215.6 302.7h5.7M215.6 314.5h5.7M218.0 304.2v12.2M215.2 304.2h5.7M215.2 316.4h5.7M218.3 307.0v11.3M215.4 307.0h5.7M215.4 318.2h5.7M218.1 304.5v12.9M215.3 304.5h5.7M215.3 317.4h5.7M218.4 297.9v13.4M215.6 297.9h5.7M215.6 311.3h5.7M218.4 308.9v10.6M215.5 308.9h5.7M215.5 319.6h5.7M218.3 302.2v10.2M215.4 302.2h5.7M215.4 312.4h5.7M217.6 306.3v11.5M214.7 306.3h5.7M214.7 317.9h5.7M217.6 304.6v13.3M214.7 304.6h5.7M214.7 317.8h5.7M218.4 299.5v12.0M215.5 299.5h5.7M215.5 311.6h5.7M219.5 300.5v14.4M216.6 300.5h5.7M216.6 314.9h5.7M219.6 298.6v13.8M216.8 298.6h5.7M216.8 312.4h5.7M219.3 301.7v12.8M216.5 301.7h5.7M216.5 314.4h5.7M219.3 305.1v12.5M216.5 305.1h5.7M216.5 317.6h5.7M219.8 300.8v11.4M217.0 300.8h5.7M217.0 312.2h5.7M219.7 298.0v14.8M216.8 298.0h5.7M216.8 312.8h5.7M221.5 297.4v12.8M218.6 297.4h5.7M218.6 310.2h5.7M220.9 302.5v12.8M218.0 302.5h5.7M218.0 315.3h5.7M221.3 301.3v11.2M218.5 301.3h5.7M218.5 312.5h5.7M221.2 303.5v11.7M218.4 303.5h5.7M218.4 315.2h5.7M220.9 303.9v12.3M218.1 303.9h5.7M218.1 316.2h5.7M220.9 307.9v12.2M218.1 307.9h5.7M218.1 320.1h5.7M221.0 306.6v13.1M218.2 306.6h5.7M218.2 319.7h5.7M221.4 304.6v10.7M218.6 304.6h5.7M218.6 315.3h5.7M221.1 294.0v13.3M218.2 294.0h5.7M218.2 307.4h5.7M222.9 300.8v11.2M220.1 300.8h5.7M220.1 312.0h5.7M222.4 301.6v10.4M219.6 301.6h5.7M219.6 312.0h5.7M222.0 303.3v10.9M219.2 303.3h5.7M219.2 314.2h5.7M222.4 300.4v11.2M219.6 300.4h5.7M219.6 311.6h5.7M223.0 300.3v12.0M220.1 300.3h5.7M220.1 312.3h5.7M222.7 300.5v11.1M219.9 300.5h5.7M219.9 311.7h5.7M222.7 311.7v7.8M219.9 311.7h5.7M219.9 319.6h5.7M223.5 296.9v13.6M220.7 296.9h5.7M220.7 310.5h5.7M223.5 295.4v14.8M220.7 295.4h5.7M220.7 310.2h5.7M224.0 295.1v14.0M221.2 295.1h5.7M221.2 309.1h5.7M223.7 298.4v14.2M220.8 298.4h5.7M220.8 312.6h5.7M223.8 305.4v13.1M221.0 305.4h5.7M221.0 318.6h5.7M223.5 300.6v14.8M220.7 300.6h5.7M220.7 315.4h5.7M224.1 299.9v12.5M221.2 299.9h5.7M221.2 312.4h5.7M224.1 304.5v14.8M221.2 304.5h5.7M221.2 319.3h5.7M224.0 302.2v13.8M221.1 302.2h5.7M221.1 316.0h5.7M225.6 304.4v12.8M222.7 304.4h5.7M222.7 317.1h5.7M225.4 295.7v12.7M222.5 295.7h5.7M222.5 308.4h5.7M225.7 302.6v13.3M222.9 302.6h5.7M222.9 315.9h5.7M225.9 308.8v13.5M223.0 308.8h5.7M223.0 322.3h5.7M225.4 302.3v12.6M222.6 302.3h5.7M222.6 314.9h5.7M225.4 306.5v11.2M222.6 306.5h5.7M222.6 317.7h5.7M225.7 302.9v14.0M222.9 302.9h5.7M222.9 317.0h5.7M225.4 297.9v11.4M222.6 297.9h5.7M222.6 309.3h5.7M225.5 303.5v11.1M222.6 303.5h5.7M222.6 314.6h5.7M225.4 301.5v10.6M222.5 301.5h5.7M222.5 312.1h5.7M225.8 295.7v13.2M223.0 295.7h5.7M223.0 308.9h5.7M225.4 300.6v13.2M222.5 300.6h5.7M222.5 313.8h5.7M225.7 294.4v12.5M222.8 294.4h5.7M222.8 306.8h5.7M225.5 297.6v12.2M222.7 297.6h5.7M222.7 309.7h5.7M225.0 301.6v11.0M222.2 301.6h5.7M222.2 312.7h5.7M227.4 304.2v11.8M224.6 304.2h5.7M224.6 316.1h5.7M227.0 301.9v12.9M224.1 301.9h5.7M224.1 314.8h5.7M226.6 296.4v12.8M223.8 296.4h5.7M223.8 309.2h5.7M227.0 301.2v11.8M224.1 301.2h5.7M224.1 312.9h5.7M227.1 299.8v13.5M224.2 299.8h5.7M224.2 313.3h5.7M226.9 303.8v14.5M224.0 303.8h5.7M224.0 318.3h5.7M227.3 301.7v12.7M224.4 301.7h5.7M224.4 314.4h5.7M227.0 298.1v12.0M224.1 298.1h5.7M224.1 310.1h5.7M227.4 303.9v12.1M224.6 303.9h5.7M224.6 316.0h5.7M226.7 300.7v11.9M223.8 300.7h5.7M223.8 312.6h5.7M226.6 300.0v11.7M223.7 300.0h5.7M223.7 311.7h5.7M228.6 302.9v11.6M225.7 302.9h5.7M225.7 314.4h5.7M228.9 310.3v9.6M226.0 310.3h5.7M226.0 319.9h5.7M228.6 304.1v11.0M225.8 304.1h5.7M225.8 315.0h5.7M228.3 309.6v11.8M225.5 309.6h5.7M225.5 321.4h5.7M229.0 303.7v12.3M226.1 303.7h5.7M226.1 316.1h5.7M228.9 303.4v13.6M226.1 303.4h5.7M226.1 317.1h5.7M228.9 302.3v12.5M226.1 302.3h5.7M226.1 314.8h5.7M229.6 299.7v14.6M226.7 299.7h5.7M226.7 314.3h5.7M229.6 300.7v14.8M226.7 300.7h5.7M226.7 315.5h5.7M230.4 308.1v14.8M227.5 308.1h5.7M227.5 322.9h5.7M229.9 301.0v10.2M227.1 301.0h5.7M227.1 311.1h5.7M229.8 301.3v14.8M226.9 301.3h5.7M226.9 316.1h5.7M231.2 303.2v9.5M228.4 303.2h5.7M228.4 312.7h5.7M231.2 306.3v11.7M228.4 306.3h5.7M228.4 318.0h5.7M231.1 301.2v11.0M228.3 301.2h5.7M228.3 312.1h5.7M231.6 301.8v10.2M228.8 301.8h5.7M228.8 312.1h5.7M231.1 303.5v10.3M228.3 303.5h5.7M228.3 313.9h5.7M231.9 299.9v11.7M229.1 299.9h5.7M229.1 311.6h5.7M231.8 301.8v11.0M228.9 301.8h5.7M228.9 312.8h5.7M231.4 298.4v12.3M228.6 298.4h5.7M228.6 310.7h5.7M231.8 310.4v10.2M229.0 310.4h5.7M229.0 320.6h5.7M231.7 305.4v10.7M228.8 305.4h5.7M228.8 316.1h5.7M231.2 299.5v11.1M228.4 299.5h5.7M228.4 310.6h5.7M231.8 301.7v12.0M229.0 301.7h5.7M229.0 313.7h5.7M233.1 302.3v14.8M230.2 302.3h5.7M230.2 317.1h5.7M233.4 303.9v14.8M230.5 303.9h5.7M230.5 318.7h5.7M233.1 299.0v13.3M230.2 299.0h5.7M230.2 312.3h5.7M232.6 297.1v14.2M229.8 297.1h5.7M229.8 311.3h5.7M232.7 298.7v14.8M229.9 298.7h5.7M229.9 313.5h5.7M233.0 300.6v13.2M230.1 300.6h5.7M230.1 313.8h5.7M233.2 302.8v13.6M230.3 302.8h5.7M230.3 316.3h5.7M233.4 303.1v14.3M230.5 303.1h5.7M230.5 317.4h5.7M233.0 295.8v13.4M230.2 295.8h5.7M230.2 309.3h5.7M232.8 304.8v13.5M229.9 304.8h5.7M229.9 318.4h5.7M234.4 297.6v14.8M231.6 297.6h5.7M231.6 312.4h5.7M234.5 300.5v14.0M231.6 300.5h5.7M231.6 314.6h5.7M234.2 294.6v14.8M231.3 294.6h5.7M231.3 309.4h5.7M234.4 301.8v14.8M231.5 301.8h5.7M231.5 316.6h5.7M236.0 303.2v14.8M233.1 303.2h5.7M233.1 318.0h5.7M236.0 304.4v14.8M233.1 304.4h5.7M233.1 319.2h5.7M236.4 308.0v14.8M233.6 308.0h5.7M233.6 322.8h5.7M236.2 296.7v14.8M233.3 296.7h5.7M233.3 311.5h5.7M236.2 301.0v14.8M233.4 301.0h5.7M233.4 315.8h5.7M237.5 306.0v10.5M234.6 306.0h5.7M234.6 316.5h5.7M237.4 301.3v9.4M234.6 301.3h5.7M234.6 310.7h5.7M237.8 297.5v10.4M235.0 297.5h5.7M235.0 307.9h5.7M237.2 302.1v10.8M234.3 302.1h5.7M234.3 312.8h5.7M237.2 298.8v9.7M234.4 298.8h5.7M234.4 308.5h5.7M237.1 305.9v9.9M234.2 305.9h5.7M234.2 315.8h5.7M237.3 301.0v11.8M234.5 301.0h5.7M234.5 312.8h5.7M237.2 301.0v11.1M234.3 301.0h5.7M234.3 312.1h5.7M237.7 300.7v8.9M234.9 300.7h5.7M234.9 309.6h5.7M237.8 302.6v10.2M234.9 302.6h5.7M234.9 312.8h5.7M239.1 307.9v10.4M236.3 307.9h5.7M236.3 318.3h5.7M239.3 299.0v13.5M236.4 299.0h5.7M236.4 312.5h5.7M239.3 305.7v11.2M236.4 305.7h5.7M236.4 316.9h5.7M239.1 298.5v11.2M236.2 298.5h5.7M236.2 309.7h5.7M238.7 305.1v13.5M235.9 305.1h5.7M235.9 318.6h5.7M239.2 298.4v11.8M236.3 298.4h5.7M236.3 310.3h5.7M239.4 306.6v12.3M236.5 306.6h5.7M236.5 318.9h5.7M238.7 301.7v9.6M235.8 301.7h5.7M235.8 311.3h5.7M240.0 305.6v11.0M237.2 305.6h5.7M237.2 316.6h5.7M240.9 301.9v11.7M238.0 301.9h5.7M238.0 313.6h5.7M240.5 305.3v11.6M237.7 305.3h5.7M237.7 316.8h5.7M240.5 302.4v10.4M237.7 302.4h5.7M237.7 312.9h5.7M240.2 298.5v11.8M237.3 298.5h5.7M237.3 310.3h5.7M240.5 298.4v11.8M237.7 298.4h5.7M237.7 310.3h5.7M240.9 295.3v13.5M238.1 295.3h5.7M238.1 308.8h5.7M240.0 301.1v12.8M237.2 301.1h5.7M237.2 313.9h5.7M240.9 298.8v14.0M238.0 298.8h5.7M238.0 312.8h5.7M240.8 301.2v12.5M238.0 301.2h5.7M238.0 313.7h5.7M240.1 301.5v12.0M237.2 301.5h5.7M237.2 313.5h5.7M240.7 299.1v11.5M237.9 299.1h5.7M237.9 310.6h5.7M240.9 302.9v10.2M238.1 302.9h5.7M238.1 313.2h5.7M240.8 302.1v12.1M237.9 302.1h5.7M237.9 314.2h5.7M240.5 305.1v12.0M237.6 305.1h5.7M237.6 317.1h5.7M240.7 298.5v11.4M237.8 298.5h5.7M237.8 309.9h5.7M240.8 300.6v11.7M237.9 300.6h5.7M237.9 312.3h5.7M240.9 305.8v14.0M238.1 305.8h5.7M238.1 319.8h5.7M240.2 303.5v11.3M237.3 303.5h5.7M237.3 314.8h5.7M255.0 300.0v14.8M252.1 300.0h5.7M252.1 314.8h5.7M254.6 303.1v13.6M251.8 303.1h5.7M251.8 316.7h5.7M255.1 300.3v14.8M252.2 300.3h5.7M252.2 315.1h5.7M255.3 302.8v11.9M252.4 302.8h5.7M252.4 314.7h5.7M254.7 293.7v12.5M251.8 293.7h5.7M251.8 306.2h5.7M254.9 307.8v12.2M252.0 307.8h5.7M252.0 320.0h5.7M254.4 299.6v11.5M251.6 299.6h5.7M251.6 311.1h5.7M254.6 303.2v13.6M251.7 303.2h5.7M251.7 316.9h5.7M256.8 307.0v12.0M254.0 307.0h5.7M254.0 319.0h5.7M256.4 300.6v12.9M253.6 300.6h5.7M253.6 313.5h5.7M256.7 292.9v14.0M253.8 292.9h5.7M253.8 306.9h5.7M256.7 296.8v12.7M253.9 296.8h5.7M253.9 309.5h5.7M256.2 307.5v12.3M253.4 307.5h5.7M253.4 319.8h5.7M256.0 303.7v14.8M253.2 303.7h5.7M253.2 318.5h5.7M256.5 292.5v14.8M253.6 292.5h5.7M253.6 307.3h5.7M258.2 300.8v10.6M255.4 300.8h5.7M255.4 311.4h5.7M258.1 301.0v12.1M255.2 301.0h5.7M255.2 313.0h5.7M257.5 300.5v11.6M254.7 300.5h5.7M254.7 312.1h5.7M258.0 298.7v11.8M255.2 298.7h5.7M255.2 310.5h5.7M257.4 305.6v12.6M254.5 305.6h5.7M254.5 318.2h5.7M257.7 302.9v12.7M254.9 302.9h5.7M254.9 315.6h5.7M257.7 302.0v14.3M254.8 302.0h5.7M254.8 316.3h5.7M259.3 304.4v12.3M256.5 304.4h5.7M256.5 316.6h5.7M259.7 298.0v14.5M256.8 298.0h5.7M256.8 312.5h5.7M259.0 297.6v13.2M256.2 297.6h5.7M256.2 310.8h5.7M259.1 298.0v11.6M256.2 298.0h5.7M256.2 309.5h5.7M259.8 300.2v14.8M257.0 300.2h5.7M257.0 315.0h5.7M259.3 297.6v14.5M256.5 297.6h5.7M256.5 312.1h5.7M259.8 302.5v14.4M257.0 302.5h5.7M257.0 316.9h5.7M259.6 300.3v14.1M256.7 300.3h5.7M256.7 314.4h5.7M261.0 303.7v11.2M258.2 303.7h5.7M258.2 314.9h5.7M260.7 297.5v13.0M257.8 297.5h5.7M257.8 310.5h5.7M261.0 299.1v14.3M258.1 299.1h5.7M258.1 313.4h5.7M260.8 303.0v11.9M257.9 303.0h5.7M257.9 314.8h5.7M261.2 300.9v12.5M258.4 300.9h5.7M258.4 313.4h5.7M260.6 301.7v13.5M257.7 301.7h5.7M257.7 315.2h5.7M261.0 296.4v10.9M258.2 296.4h5.7M258.2 307.4h5.7M261.4 304.5v12.8M258.5 304.5h5.7M258.5 317.3h5.7M262.7 300.4v13.4M259.8 300.4h5.7M259.8 313.7h5.7M262.4 298.2v13.4M259.5 298.2h5.7M259.5 311.7h5.7M262.7 296.2v12.8M259.9 296.2h5.7M259.9 309.0h5.7M262.0 300.6v14.8M259.2 300.6h5.7M259.2 315.4h5.7M262.0 304.5v12.8M259.1 304.5h5.7M259.1 317.4h5.7M262.9 297.7v14.8M260.1 297.7h5.7M260.1 312.5h5.7M262.7 302.9v14.1M259.8 302.9h5.7M259.8 317.0h5.7M262.0 296.5v12.9M259.2 296.5h5.7M259.2 309.5h5.7M262.2 302.9v13.8M259.3 302.9h5.7M259.3 316.7h5.7M262.6 301.7v12.2M259.7 301.7h5.7M259.7 313.9h5.7M261.9 296.5v14.5M259.1 296.5h5.7M259.1 311.0h5.7M262.3 299.1v14.8M259.4 299.1h5.7M259.4 313.9h5.7M262.3 296.4v13.2M259.4 296.4h5.7M259.4 309.6h5.7M262.4 299.7v14.0M259.5 299.7h5.7M259.5 313.7h5.7M264.3 299.4v11.6M261.4 299.4h5.7M261.4 311.0h5.7M264.3 295.8v12.6M261.5 295.8h5.7M261.5 308.4h5.7M264.2 297.4v11.8M261.4 297.4h5.7M261.4 309.1h5.7M264.4 305.7v9.5M261.6 305.7h5.7M261.6 315.1h5.7M263.7 295.4v12.0M260.9 295.4h5.7M260.9 307.4h5.7M263.9 298.7v12.7M261.0 298.7h5.7M261.0 311.3h5.7M264.0 307.3v13.6M261.2 307.3h5.7M261.2 320.9h5.7M264.4 296.9v11.2M261.5 296.9h5.7M261.5 308.1h5.7M263.8 300.4v12.2M260.9 300.4h5.7M260.9 312.6h5.7M263.5 296.1v13.4M260.7 296.1h5.7M260.7 309.5h5.7M263.6 303.1v11.7M260.7 303.1h5.7M260.7 314.8h5.7M263.7 297.9v13.7M260.9 297.9h5.7M260.9 311.6h5.7M265.0 295.3v13.0M262.2 295.3h5.7M262.2 308.3h5.7M265.4 306.2v12.9M262.5 306.2h5.7M262.5 319.1h5.7M265.0 306.5v12.6M262.2 306.5h5.7M262.2 319.1h5.7M265.4 301.1v12.6M262.6 301.1h5.7M262.6 313.6h5.7M265.9 307.8v11.8M263.0 307.8h5.7M263.0 319.6h5.7M265.7 298.7v14.8M262.8 298.7h5.7M262.8 313.5h5.7M267.1 301.8v11.9M264.2 301.8h5.7M264.2 313.7h5.7M267.0 304.0v11.4M264.1 304.0h5.7M264.1 315.4h5.7M267.2 297.3v11.3M264.3 297.3h5.7M264.3 308.6h5.7M266.7 305.7v12.7M263.9 305.7h5.7M263.9 318.3h5.7M266.8 300.4v13.1M263.9 300.4h5.7M263.9 313.5h5.7M267.4 302.9v11.0M264.5 302.9h5.7M264.5 313.9h5.7M266.8 300.9v13.0M264.0 300.9h5.7M264.0 314.0h5.7M266.7 296.7v13.3M263.8 296.7h5.7M263.8 310.0h5.7M267.2 304.6v12.3M264.3 304.6h5.7M264.3 316.9h5.7M267.1 306.6v12.8M264.3 306.6h5.7M264.3 319.4h5.7M268.9 300.9v11.9M266.0 300.9h5.7M266.0 312.8h5.7M268.4 296.1v14.0M265.5 296.1h5.7M265.5 310.0h5.7M268.4 305.2v12.0M265.5 305.2h5.7M265.5 317.2h5.7M268.5 294.8v12.7M265.6 294.8h5.7M265.6 307.5h5.7M268.1 297.4v13.4M265.2 297.4h5.7M265.2 310.8h5.7M268.2 292.7v13.7M265.3 292.7h5.7M265.3 306.4h5.7M268.2 295.9v14.0M265.3 295.9h5.7M265.3 310.0h5.7M268.7 296.7v13.3M265.8 296.7h5.7M265.8 310.0h5.7M277.9 293.3v11.9M275.1 293.3h5.7M275.1 305.2h5.7M277.8 301.9v11.9M275.0 301.9h5.7M275.0 313.8h5.7M277.7 306.0v12.9M274.9 306.0h5.7M274.9 318.9h5.7M277.6 297.3v11.2M274.8 297.3h5.7M274.8 308.5h5.7M277.2 300.3v10.4M274.3 300.3h5.7M274.3 310.6h5.7M277.1 301.5v12.1M274.3 301.5h5.7M274.3 313.6h5.7M277.7 305.1v11.9M274.8 305.1h5.7M274.8 317.0h5.7M277.5 298.9v11.6M274.6 298.9h5.7M274.6 310.5h5.7M277.2 300.1v11.4M274.3 300.1h5.7M274.3 311.5h5.7M277.3 303.4v11.2M274.4 303.4h5.7M274.4 314.6h5.7M279.1 304.7v11.1M276.3 304.7h5.7M276.3 315.8h5.7M278.7 295.7v13.7M275.8 295.7h5.7M275.8 309.3h5.7M279.2 305.7v11.4M276.3 305.7h5.7M276.3 317.1h5.7M279.1 305.9v11.9M276.3 305.9h5.7M276.3 317.7h5.7M278.8 300.7v12.5M275.9 300.7h5.7M275.9 313.2h5.7M278.6 295.0v13.0M275.8 295.0h5.7M275.8 308.0h5.7M279.3 298.3v13.7M276.5 298.3h5.7M276.5 312.0h5.7M279.1 300.8v9.6M276.3 300.8h5.7M276.3 310.4h5.7M280.8 300.9v13.3M277.9 300.9h5.7M277.9 314.2h5.7M280.0 298.8v14.8M277.2 298.8h5.7M277.2 313.6h5.7M280.1 303.8v12.1M277.3 303.8h5.7M277.3 315.9h5.7M280.0 294.4v12.6M277.1 294.4h5.7M277.1 306.9h5.7M280.5 307.1v14.0M277.7 307.1h5.7M277.7 321.2h5.7M280.4 301.0v11.9M277.5 301.0h5.7M277.5 312.8h5.7M280.2 303.1v11.6M277.4 303.1h5.7M277.4 314.7h5.7M282.3 303.6v14.8M279.5 303.6h5.7M279.5 318.4h5.7M282.1 304.7v14.0M279.2 304.7h5.7M279.2 318.7h5.7M281.9 302.5v11.6M279.1 302.5h5.7M279.1 314.1h5.7M281.6 299.1v14.3M278.8 299.1h5.7M278.8 313.4h5.7M281.5 298.8v14.8M278.7 298.8h5.7M278.7 313.6h5.7M281.5 302.2v14.8M278.7 302.2h5.7M278.7 317.0h5.7M283.4 298.4v11.8M280.5 298.4h5.7M280.5 310.2h5.7M283.4 302.4v14.1M280.6 302.4h5.7M280.6 316.4h5.7M283.0 306.7v10.8M280.1 306.7h5.7M280.1 317.5h5.7M283.8 303.1v12.7M280.9 303.1h5.7M280.9 315.7h5.7M283.1 294.9v12.4M280.3 294.9h5.7M280.3 307.2h5.7M283.2 308.3v11.7M280.4 308.3h5.7M280.4 320.0h5.7M283.8 297.0v11.4M280.9 297.0h5.7M280.9 308.4h5.7M283.4 304.1v11.7M280.6 304.1h5.7M280.6 315.7h5.7M283.4 298.6v11.4M280.5 298.6h5.7M280.5 310.0h5.7M283.2 298.4v9.9M280.3 298.4h5.7M280.3 308.3h5.7M283.4 297.0v11.4M280.6 297.0h5.7M280.6 308.5h5.7M285.2 293.7v14.7M282.3 293.7h5.7M282.3 308.4h5.7M285.2 297.7v11.1M282.3 297.7h5.7M282.3 308.8h5.7M284.5 299.9v13.8M281.7 299.9h5.7M281.7 313.7h5.7M284.9 305.2v10.7M282.0 305.2h5.7M282.0 316.0h5.7M285.1 307.6v13.0M282.2 307.6h5.7M282.2 320.5h5.7M285.2 302.9v12.4M282.3 302.9h5.7M282.3 315.3h5.7M284.4 303.4v13.7M281.6 303.4h5.7M281.6 317.1h5.7M285.1 298.3v13.9M282.2 298.3h5.7M282.2 312.1h5.7M295.1 304.2v12.4M292.3 304.2h5.7M292.3 316.7h5.7M295.4 297.0v14.4M292.5 297.0h5.7M292.5 311.4h5.7M295.2 300.4v10.8M292.4 300.4h5.7M292.4 311.2h5.7M295.4 302.4v11.6M292.5 302.4h5.7M292.5 314.0h5.7M295.4 301.0v12.8M292.6 301.0h5.7M292.6 313.8h5.7M295.6 302.2v11.4M292.8 302.2h5.7M292.8 313.6h5.7M295.7 308.1v11.0M292.8 308.1h5.7M292.8 319.1h5.7M295.4 303.8v12.3M292.5 303.8h5.7M292.5 316.0h5.7M295.9 294.9v13.1M293.1 294.9h5.7M293.1 308.0h5.7M295.8 304.8v12.5M292.9 304.8h5.7M292.9 317.3h5.7M295.3 296.2v12.7M292.5 296.2h5.7M292.5 308.8h5.7M296.6 295.4v11.7M293.7 295.4h5.7M293.7 307.1h5.7M296.6 299.3v12.3M293.7 299.3h5.7M293.7 311.6h5.7M297.0 301.1v10.0M294.1 301.1h5.7M294.1 311.1h5.7M296.8 297.7v11.2M294.0 297.7h5.7M294.0 308.9h5.7M296.6 301.8v9.8M293.8 301.8h5.7M293.8 311.6h5.7M297.0 299.0v12.2M294.2 299.0h5.7M294.2 311.2h5.7M296.7 302.5v13.1M293.9 302.5h5.7M293.9 315.6h5.7M298.8 301.0v12.3M296.0 301.0h5.7M296.0 313.3h5.7M298.5 301.1v13.5M295.7 301.1h5.7M295.7 314.6h5.7M298.7 307.2v12.7M295.8 307.2h5.7M295.8 319.8h5.7M298.7 307.5v12.0M295.9 307.5h5.7M295.9 319.5h5.7M298.3 301.2v11.5M295.5 301.2h5.7M295.5 312.8h5.7M298.3 305.5v14.1M295.5 305.5h5.7M295.5 319.7h5.7M298.7 301.6v13.1M295.9 301.6h5.7M295.9 314.7h5.7M298.5 299.2v12.4M295.7 299.2h5.7M295.7 311.7h5.7M298.1 302.7v13.4M295.2 302.7h5.7M295.2 316.0h5.7M300.1 296.8v14.4M297.3 296.8h5.7M297.3 311.2h5.7M300.2 291.7v13.5M297.4 291.7h5.7M297.4 305.2h5.7M300.4 294.5v12.4M297.5 294.5h5.7M297.5 306.9h5.7M299.8 304.2v11.2M296.9 304.2h5.7M296.9 315.4h5.7M299.7 306.5v13.9M296.8 306.5h5.7M296.8 320.4h5.7M300.2 300.0v11.7M297.4 300.0h5.7M297.4 311.7h5.7M300.0 300.3v14.1M297.1 300.3h5.7M297.1 314.4h5.7M301.9 305.2v14.8M299.0 305.2h5.7M299.0 320.0h5.7M301.4 301.2v14.8M298.6 301.2h5.7M298.6 316.0h5.7M301.5 300.0v14.8M298.7 300.0h5.7M298.7 314.8h5.7M301.0 305.4v14.8M298.2 305.4h5.7M298.2 320.2h5.7M301.6 299.2v14.4M298.8 299.2h5.7M298.8 313.6h5.7M301.7 294.6v14.8M298.9 294.6h5.7M298.9 309.4h5.7M301.5 302.8v14.8M298.6 302.8h5.7M298.6 317.6h5.7M301.4 306.0v14.8M298.5 306.0h5.7M298.5 320.8h5.7M303.4 297.9v13.9M300.6 297.9h5.7M300.6 311.8h5.7M303.1 299.8v14.8M300.3 299.8h5.7M300.3 314.6h5.7M303.3 299.4v13.1M300.5 299.4h5.7M300.5 312.5h5.7M303.0 296.8v14.7M300.1 296.8h5.7M300.1 311.5h5.7M302.9 301.1v14.8M300.1 301.1h5.7M300.1 315.9h5.7M304.5 300.3v13.0M301.6 300.3h5.7M301.6 313.3h5.7M306.0 299.6v11.7M303.2 299.6h5.7M303.2 311.3h5.7M305.8 298.9v10.4M303.0 298.9h5.7M303.0 309.3h5.7M306.5 308.1v9.1M303.6 308.1h5.7M303.6 317.2h5.7M306.5 304.3v12.3M303.7 304.3h5.7M303.7 316.7h5.7M308.0 300.0v12.7M305.1 300.0h5.7M305.1 312.8h5.7M307.5 299.5v9.9M304.6 299.5h5.7M304.6 309.4h5.7M307.6 305.2v12.3M304.8 305.2h5.7M304.8 317.5h5.7M309.0 298.6v14.5M306.2 298.6h5.7M306.2 313.1h5.7M309.6 298.2v10.7M306.7 298.2h5.7M306.7 308.9h5.7M309.1 297.3v13.2M306.3 297.3h5.7M306.3 310.5h5.7M310.6 294.3v12.3M307.8 294.3h5.7M307.8 306.7h5.7M311.1 304.0v9.1M308.3 304.0h5.7M308.3 313.1h5.7M310.8 293.5v10.3M308.0 293.5h5.7M308.0 303.8h5.7M311.3 301.6v11.2M308.5 301.6h5.7M308.5 312.8h5.7M112.3 294.6v15.2M109.5 294.6h5.7M109.5 309.8h5.7M123.7 294.6v15.2M120.9 294.6h5.7M120.9 309.8h5.7M147.0 292.3v15.2M144.2 292.3h5.7M144.2 307.5h5.7M162.4 290.6v15.2M159.6 290.6h5.7M159.6 305.8h5.7M160.5 292.5v15.2M157.7 292.5h5.7M157.7 307.7h5.7M175.3 289.5v15.2M172.5 289.5h5.7M172.5 304.7h5.7M180.0 292.0v15.2M177.2 292.0h5.7M177.2 307.2h5.7M195.0 293.0v15.2M192.2 293.0h5.7M192.2 308.2h5.7M201.0 293.0v15.2M198.2 293.0h5.7M198.2 308.2h5.7M214.5 285.5v15.2M211.7 285.5h5.7M211.7 300.7h5.7M216.5 290.0v15.2M213.7 290.0h5.7M213.7 305.2h5.7M221.0 293.0v15.2M218.2 293.0h5.7M218.2 308.2h5.7M232.5 292.0v15.2M229.7 292.0h5.7M229.7 307.2h5.7M95.7 311.1v15.2M92.9 311.1h5.7M92.9 326.3h5.7M104.3 309.8v15.2M101.5 309.8h5.7M101.5 325.0h5.7M114.3 310.5v15.2M111.5 310.5h5.7M111.5 325.7h5.7M120.3 307.3v15.2M117.5 307.3h5.7M117.5 322.5h5.7M125.0 307.8v15.2M122.2 307.8h5.7M122.2 323.0h5.7M137.7 308.8v15.2M134.8 308.8h5.7M134.8 324.0h5.7M145.5 312.8v15.2M142.7 312.8h5.7M142.7 328.0h5.7M151.5 309.6v15.2M148.7 309.6h5.7M148.7 324.8h5.7M164.8 310.8v15.2M162.0 310.8h5.7M162.0 326.0h5.7M182.5 312.8v15.2M179.7 312.8h5.7M179.7 328.0h5.7M190.0 310.8v15.2M187.2 310.8h5.7M187.2 326.0h5.7M199.0 308.6v15.2M196.2 308.6h5.7M196.2 323.8h5.7M215.0 307.3v15.2M212.2 307.3h5.7M212.2 322.5h5.7M223.8 311.8v15.2M221.0 311.8h5.7M221.0 327.0h5.7M247.0 303.2v15.0M244.2 303.2h5.7M244.2 318.2h5.7M255.7 282.4v18.6M252.8 282.4h5.7M252.8 301.0h5.7M255.2 287.3v14.4M252.3 287.3h5.7M252.3 301.7h5.7M266.0 287.3v12.6M263.1 287.3h5.7M263.1 299.9h5.7M272.8 292.6v13.8M269.9 292.6h5.7M269.9 306.4h5.7M278.7 294.8v13.4M275.8 294.8h5.7M275.8 308.2h5.7M298.2 285.8v15.6M295.3 285.8h5.7M295.3 301.4h5.7M304.0 289.7v9.2M301.1 289.7h5.7M301.1 298.9h5.7M272.8 307.8v14.6M269.9 307.8h5.7M269.9 322.4h5.7M279.0 310.1v14.8M276.1 310.1h5.7M276.1 324.9h5.7M301.6 309.6v13.8M298.8 309.6h5.7M298.8 323.4h5.7M314.3 296.4v13.8M311.4 296.4h5.7M311.4 310.2h5.7M323.6 300.5v8.8M320.8 300.5h5.7M320.8 309.3h5.7M325.8 296.6v11.6M322.9 296.6h5.7M322.9 308.2h5.7M337.4 303.6v19.1M334.5 303.6h5.7M334.5 322.8h5.7M343.4 293.1v18.1M340.5 293.1h5.7M340.5 311.2h5.7M351.9 290.8v15.3M349.0 290.8h5.7M349.0 306.0h5.7M362.2 290.9v11.8M359.3 290.9h5.7M359.3 302.7h5.7M542.3 132.7v4.6M539.4 132.7h5.7M539.4 137.3h5.7M548.1 152.9v4.6M545.2 152.9h5.7M545.2 157.5h5.7M555.1 181.0v6.4M552.2 181.0h5.7M552.2 187.4h5.7M560.7 202.7v6.4M557.9 202.7h5.7M557.9 209.1h5.7M572.7 223.3v8.0M569.9 223.3h5.7M569.9 231.3h5.7" stroke="#000" stroke-width="1" fill="none"/>
<g fill="#000"><circle cx="85.8" cy="310.8" r="2.5"/><circle cx="85.9" cy="309.4" r="2.5"/><circle cx="86.5" cy="307.9" r="2.5"/><circle cx="86.5" cy="303.1" r="2.5"/><circle cx="86.1" cy="310.5" r="2.5"/><circle cx="86.0" cy="302.0" r="2.5"/><circle cx="86.1" cy="309.9" r="2.5"/><circle cx="85.7" cy="310.0" r="2.5"/><circle cx="87.4" cy="309.9" r="2.5"/><circle cx="87.9" cy="309.8" r="2.5"/><circle cx="87.2" cy="312.3" r="2.5"/><circle cx="88.0" cy="316.0" r="2.5"/><circle cx="95.7" cy="308.8" r="2.5"/><circle cx="96.5" cy="305.3" r="2.5"/><circle cx="95.8" cy="303.2" r="2.5"/><circle cx="95.6" cy="313.4" r="2.5"/><circle cx="96.4" cy="308.3" r="2.5"/><circle cx="95.7" cy="308.1" r="2.5"/><circle cx="95.7" cy="309.1" r="2.5"/><circle cx="96.1" cy="309.4" r="2.5"/><circle cx="95.7" cy="311.5" r="2.5"/><circle cx="96.0" cy="308.4" r="2.5"/><circle cx="96.3" cy="311.3" r="2.5"/><circle cx="97.9" cy="309.2" r="2.5"/><circle cx="97.7" cy="310.4" r="2.5"/><circle cx="97.7" cy="310.1" r="2.5"/><circle cx="97.7" cy="309.0" r="2.5"/><circle cx="97.2" cy="310.8" r="2.5"/><circle cx="97.1" cy="303.2" r="2.5"/><circle cx="97.5" cy="312.3" r="2.5"/><circle cx="97.9" cy="314.0" r="2.5"/><circle cx="97.4" cy="308.5" r="2.5"/><circle cx="97.7" cy="313.4" r="2.5"/><circle cx="97.8" cy="306.6" r="2.5"/><circle cx="97.0" cy="314.0" r="2.5"/><circle cx="97.9" cy="309.5" r="2.5"/><circle cx="99.2" cy="310.6" r="2.5"/><circle cx="99.0" cy="308.7" r="2.5"/><circle cx="99.3" cy="311.9" r="2.5"/><circle cx="99.0" cy="306.9" r="2.5"/><circle cx="98.8" cy="309.0" r="2.5"/><circle cx="99.1" cy="314.0" r="2.5"/><circle cx="99.2" cy="309.3" r="2.5"/><circle cx="99.3" cy="311.6" r="2.5"/><circle cx="100.5" cy="309.0" r="2.5"/><circle cx="100.7" cy="312.3" r="2.5"/><circle cx="100.5" cy="314.7" r="2.5"/><circle cx="100.4" cy="311.1" r="2.5"/><circle cx="100.8" cy="314.6" r="2.5"/><circle cx="100.1" cy="312.3" r="2.5"/><circle cx="101.9" cy="309.2" r="2.5"/><circle cx="102.0" cy="307.1" r="2.5"/><circle cx="102.1" cy="310.1" r="2.5"/><circle cx="101.3" cy="310.6" r="2.5"/><circle cx="101.8" cy="312.5" r="2.5"/><circle cx="101.5" cy="304.4" r="2.5"/><circle cx="101.3" cy="309.1" r="2.5"/><circle cx="101.9" cy="313.5" r="2.5"/><circle cx="101.6" cy="307.0" r="2.5"/><circle cx="101.5" cy="307.0" r="2.5"/><circle cx="101.3" cy="309.6" r="2.5"/><circle cx="103.6" cy="310.1" r="2.5"/><circle cx="103.5" cy="307.2" r="2.5"/><circle cx="103.1" cy="309.0" r="2.5"/><circle cx="103.4" cy="315.0" r="2.5"/><circle cx="103.4" cy="311.9" r="2.5"/><circle cx="104.3" cy="307.9" r="2.5"/><circle cx="104.8" cy="313.8" r="2.5"/><circle cx="104.9" cy="311.3" r="2.5"/><circle cx="104.7" cy="308.7" r="2.5"/><circle cx="104.8" cy="313.6" r="2.5"/><circle cx="104.5" cy="307.8" r="2.5"/><circle cx="104.9" cy="310.8" r="2.5"/><circle cx="104.6" cy="306.3" r="2.5"/><circle cx="106.5" cy="308.2" r="2.5"/><circle cx="106.0" cy="309.4" r="2.5"/><circle cx="106.4" cy="316.9" r="2.5"/><circle cx="105.6" cy="305.5" r="2.5"/><circle cx="105.8" cy="305.2" r="2.5"/><circle cx="106.0" cy="313.5" r="2.5"/><circle cx="106.4" cy="311.5" r="2.5"/><circle cx="105.9" cy="307.2" r="2.5"/><circle cx="106.0" cy="315.0" r="2.5"/><circle cx="106.4" cy="306.2" r="2.5"/><circle cx="107.1" cy="310.8" r="2.5"/><circle cx="107.2" cy="312.5" r="2.5"/><circle cx="107.5" cy="303.3" r="2.5"/><circle cx="107.0" cy="311.7" r="2.5"/><circle cx="107.0" cy="306.6" r="2.5"/><circle cx="107.8" cy="308.8" r="2.5"/><circle cx="107.7" cy="305.3" r="2.5"/><circle cx="107.6" cy="313.3" r="2.5"/><circle cx="107.1" cy="308.9" r="2.5"/><circle cx="107.9" cy="304.7" r="2.5"/><circle cx="109.1" cy="302.2" r="2.5"/><circle cx="109.1" cy="314.4" r="2.5"/><circle cx="109.2" cy="305.2" r="2.5"/><circle cx="108.4" cy="315.4" r="2.5"/><circle cx="108.8" cy="303.1" r="2.5"/><circle cx="109.1" cy="304.7" r="2.5"/><circle cx="108.9" cy="305.5" r="2.5"/><circle cx="108.8" cy="309.2" r="2.5"/><circle cx="108.5" cy="308.2" r="2.5"/><circle cx="108.6" cy="309.2" r="2.5"/><circle cx="108.8" cy="309.4" r="2.5"/><circle cx="108.9" cy="312.6" r="2.5"/><circle cx="110.3" cy="302.1" r="2.5"/><circle cx="110.7" cy="303.3" r="2.5"/><circle cx="110.5" cy="304.9" r="2.5"/><circle cx="110.2" cy="306.5" r="2.5"/><circle cx="110.1" cy="311.1" r="2.5"/><circle cx="110.3" cy="302.0" r="2.5"/><circle cx="110.8" cy="310.4" r="2.5"/><circle cx="110.1" cy="309.6" r="2.5"/><circle cx="110.5" cy="303.1" r="2.5"/><circle cx="110.0" cy="312.4" r="2.5"/><circle cx="110.6" cy="303.8" r="2.5"/><circle cx="110.3" cy="301.9" r="2.5"/><circle cx="110.0" cy="313.5" r="2.5"/><circle cx="110.6" cy="303.3" r="2.5"/><circle cx="110.6" cy="312.7" r="2.5"/><circle cx="111.6" cy="309.2" r="2.5"/><circle cx="111.7" cy="309.2" r="2.5"/><circle cx="111.4" cy="309.0" r="2.5"/><circle cx="112.0" cy="307.0" r="2.5"/><circle cx="111.9" cy="307.6" r="2.5"/><circle cx="112.0" cy="305.0" r="2.5"/><circle cx="111.7" cy="307.4" r="2.5"/><circle cx="111.7" cy="309.7" r="2.5"/><circle cx="111.4" cy="308.0" r="2.5"/><circle cx="112.2" cy="308.5" r="2.5"/><circle cx="112.9" cy="303.5" r="2.5"/><circle cx="113.1" cy="310.4" r="2.5"/><circle cx="113.6" cy="308.4" r="2.5"/><circle cx="112.7" cy="310.1" r="2.5"/><circle cx="113.5" cy="313.5" r="2.5"/><circle cx="114.4" cy="309.0" r="2.5"/><circle cx="114.8" cy="306.9" r="2.5"/><circle cx="115.0" cy="309.7" r="2.5"/><circle cx="114.2" cy="309.2" r="2.5"/><circle cx="114.4" cy="313.2" r="2.5"/><circle cx="114.4" cy="310.6" r="2.5"/><circle cx="115.0" cy="311.4" r="2.5"/><circle cx="114.9" cy="303.3" r="2.5"/><circle cx="114.9" cy="306.3" r="2.5"/><circle cx="114.4" cy="312.6" r="2.5"/><circle cx="114.8" cy="309.3" r="2.5"/><circle cx="115.9" cy="309.2" r="2.5"/><circle cx="116.4" cy="308.9" r="2.5"/><circle cx="116.2" cy="313.0" r="2.5"/><circle cx="116.3" cy="306.7" r="2.5"/><circle cx="115.6" cy="311.5" r="2.5"/><circle cx="115.8" cy="306.8" r="2.5"/><circle cx="116.0" cy="305.2" r="2.5"/><circle cx="117.4" cy="310.1" r="2.5"/><circle cx="117.9" cy="310.3" r="2.5"/><circle cx="117.5" cy="308.0" r="2.5"/><circle cx="117.8" cy="307.7" r="2.5"/><circle cx="117.8" cy="316.6" r="2.5"/><circle cx="118.8" cy="310.1" r="2.5"/><circle cx="119.0" cy="311.1" r="2.5"/><circle cx="119.1" cy="305.7" r="2.5"/><circle cx="119.2" cy="306.7" r="2.5"/><circle cx="119.0" cy="311.8" r="2.5"/><circle cx="118.9" cy="308.0" r="2.5"/><circle cx="119.2" cy="308.9" r="2.5"/><circle cx="119.1" cy="308.5" r="2.5"/><circle cx="118.8" cy="311.1" r="2.5"/><circle cx="120.2" cy="308.2" r="2.5"/><circle cx="120.8" cy="306.8" r="2.5"/><circle cx="120.3" cy="308.2" r="2.5"/><circle cx="120.3" cy="310.2" r="2.5"/><circle cx="120.8" cy="309.4" r="2.5"/><circle cx="120.6" cy="305.3" r="2.5"/><circle cx="119.9" cy="302.6" r="2.5"/><circle cx="120.3" cy="310.3" r="2.5"/><circle cx="121.7" cy="316.0" r="2.5"/><circle cx="121.6" cy="307.0" r="2.5"/><circle cx="122.0" cy="309.1" r="2.5"/><circle cx="122.0" cy="307.8" r="2.5"/><circle cx="122.8" cy="314.2" r="2.5"/><circle cx="122.8" cy="307.6" r="2.5"/><circle cx="122.8" cy="307.2" r="2.5"/><circle cx="122.7" cy="311.2" r="2.5"/><circle cx="122.8" cy="311.7" r="2.5"/><circle cx="123.3" cy="311.0" r="2.5"/><circle cx="123.7" cy="308.1" r="2.5"/><circle cx="123.1" cy="310.5" r="2.5"/><circle cx="123.7" cy="308.7" r="2.5"/><circle cx="124.9" cy="313.3" r="2.5"/><circle cx="124.9" cy="310.6" r="2.5"/><circle cx="124.4" cy="308.4" r="2.5"/><circle cx="124.5" cy="314.6" r="2.5"/><circle cx="124.3" cy="303.7" r="2.5"/><circle cx="124.9" cy="306.9" r="2.5"/><circle cx="124.2" cy="311.1" r="2.5"/><circle cx="124.4" cy="312.5" r="2.5"/><circle cx="124.7" cy="307.8" r="2.5"/><circle cx="124.2" cy="305.5" r="2.5"/><circle cx="124.4" cy="306.1" r="2.5"/><circle cx="125.6" cy="311.4" r="2.5"/><circle cx="125.8" cy="306.6" r="2.5"/><circle cx="125.6" cy="313.2" r="2.5"/><circle cx="125.8" cy="307.3" r="2.5"/><circle cx="125.8" cy="311.9" r="2.5"/><circle cx="126.2" cy="310.4" r="2.5"/><circle cx="125.6" cy="303.4" r="2.5"/><circle cx="125.7" cy="309.6" r="2.5"/><circle cx="125.7" cy="312.0" r="2.5"/><circle cx="127.5" cy="309.7" r="2.5"/><circle cx="127.1" cy="309.2" r="2.5"/><circle cx="127.8" cy="308.4" r="2.5"/><circle cx="127.2" cy="310.0" r="2.5"/><circle cx="128.0" cy="316.8" r="2.5"/><circle cx="127.4" cy="312.1" r="2.5"/><circle cx="127.0" cy="315.1" r="2.5"/><circle cx="127.7" cy="309.1" r="2.5"/><circle cx="127.9" cy="306.7" r="2.5"/><circle cx="127.9" cy="309.4" r="2.5"/><circle cx="135.1" cy="313.2" r="2.5"/><circle cx="135.4" cy="307.1" r="2.5"/><circle cx="135.5" cy="308.9" r="2.5"/><circle cx="134.9" cy="312.3" r="2.5"/><circle cx="135.2" cy="310.6" r="2.5"/><circle cx="135.4" cy="310.4" r="2.5"/><circle cx="134.7" cy="307.6" r="2.5"/><circle cx="135.2" cy="307.3" r="2.5"/><circle cx="134.9" cy="309.9" r="2.5"/><circle cx="136.5" cy="311.0" r="2.5"/><circle cx="136.4" cy="313.2" r="2.5"/><circle cx="136.8" cy="305.2" r="2.5"/><circle cx="137.0" cy="305.7" r="2.5"/><circle cx="137.1" cy="305.6" r="2.5"/><circle cx="137.0" cy="311.1" r="2.5"/><circle cx="136.7" cy="313.3" r="2.5"/><circle cx="136.3" cy="311.4" r="2.5"/><circle cx="136.3" cy="308.3" r="2.5"/><circle cx="136.3" cy="305.7" r="2.5"/><circle cx="136.6" cy="311.0" r="2.5"/><circle cx="137.7" cy="301.7" r="2.5"/><circle cx="137.9" cy="306.6" r="2.5"/><circle cx="137.8" cy="304.0" r="2.5"/><circle cx="138.1" cy="301.8" r="2.5"/><circle cx="137.7" cy="305.4" r="2.5"/><circle cx="138.2" cy="310.3" r="2.5"/><circle cx="138.2" cy="311.2" r="2.5"/><circle cx="138.0" cy="309.6" r="2.5"/><circle cx="138.2" cy="308.3" r="2.5"/><circle cx="137.8" cy="315.5" r="2.5"/><circle cx="138.0" cy="312.4" r="2.5"/><circle cx="137.8" cy="308.2" r="2.5"/><circle cx="140.0" cy="303.7" r="2.5"/><circle cx="139.5" cy="311.8" r="2.5"/><circle cx="139.2" cy="315.8" r="2.5"/><circle cx="139.6" cy="312.2" r="2.5"/><circle cx="139.4" cy="305.8" r="2.5"/><circle cx="139.4" cy="314.4" r="2.5"/><circle cx="139.9" cy="308.2" r="2.5"/><circle cx="139.8" cy="310.1" r="2.5"/><circle cx="139.1" cy="301.7" r="2.5"/><circle cx="139.5" cy="309.6" r="2.5"/><circle cx="141.2" cy="311.6" r="2.5"/><circle cx="140.8" cy="305.3" r="2.5"/><circle cx="141.4" cy="308.6" r="2.5"/><circle cx="140.8" cy="310.8" r="2.5"/><circle cx="141.0" cy="308.8" r="2.5"/><circle cx="140.8" cy="305.7" r="2.5"/><circle cx="141.4" cy="306.7" r="2.5"/><circle cx="140.9" cy="309.7" r="2.5"/><circle cx="141.1" cy="306.6" r="2.5"/><circle cx="140.9" cy="302.7" r="2.5"/><circle cx="141.2" cy="311.3" r="2.5"/><circle cx="141.0" cy="314.9" r="2.5"/><circle cx="140.6" cy="307.5" r="2.5"/><circle cx="141.3" cy="313.3" r="2.5"/><circle cx="142.4" cy="306.1" r="2.5"/><circle cx="142.6" cy="310.7" r="2.5"/><circle cx="142.1" cy="306.2" r="2.5"/><circle cx="142.9" cy="311.1" r="2.5"/><circle cx="142.8" cy="307.8" r="2.5"/><circle cx="142.5" cy="307.0" r="2.5"/><circle cx="142.0" cy="305.0" r="2.5"/><circle cx="142.6" cy="307.9" r="2.5"/><circle cx="144.3" cy="308.6" r="2.5"/><circle cx="144.1" cy="309.9" r="2.5"/><circle cx="144.1" cy="307.5" r="2.5"/><circle cx="145.1" cy="309.0" r="2.5"/><circle cx="145.0" cy="308.8" r="2.5"/><circle cx="145.4" cy="310.7" r="2.5"/><circle cx="144.9" cy="315.9" r="2.5"/><circle cx="145.6" cy="305.8" r="2.5"/><circle cx="144.9" cy="314.2" r="2.5"/><circle cx="144.9" cy="311.7" r="2.5"/><circle cx="145.8" cy="306.5" r="2.5"/><circle cx="145.4" cy="311.6" r="2.5"/><circle cx="145.6" cy="313.7" r="2.5"/><circle cx="145.5" cy="303.2" r="2.5"/><circle cx="146.5" cy="309.8" r="2.5"/><circle cx="146.6" cy="305.0" r="2.5"/><circle cx="146.6" cy="304.7" r="2.5"/><circle cx="146.6" cy="306.6" r="2.5"/><circle cx="146.9" cy="305.8" r="2.5"/><circle cx="147.2" cy="306.8" r="2.5"/><circle cx="146.9" cy="316.6" r="2.5"/><circle cx="147.0" cy="308.9" r="2.5"/><circle cx="146.9" cy="312.3" r="2.5"/><circle cx="147.1" cy="307.0" r="2.5"/><circle cx="146.6" cy="311.2" r="2.5"/><circle cx="146.9" cy="312.9" r="2.5"/><circle cx="148.5" cy="309.7" r="2.5"/><circle cx="148.1" cy="314.8" r="2.5"/><circle cx="148.2" cy="305.9" r="2.5"/><circle cx="148.4" cy="308.9" r="2.5"/><circle cx="148.1" cy="313.0" r="2.5"/><circle cx="148.3" cy="309.8" r="2.5"/><circle cx="147.9" cy="309.9" r="2.5"/><circle cx="148.4" cy="310.0" r="2.5"/><circle cx="147.8" cy="315.5" r="2.5"/><circle cx="148.6" cy="303.3" r="2.5"/><circle cx="149.4" cy="305.7" r="2.5"/><circle cx="149.3" cy="305.9" r="2.5"/><circle cx="150.1" cy="306.9" r="2.5"/><circle cx="150.1" cy="301.8" r="2.5"/><circle cx="149.4" cy="316.6" r="2.5"/><circle cx="150.1" cy="313.2" r="2.5"/><circle cx="149.2" cy="316.6" r="2.5"/><circle cx="150.0" cy="303.2" r="2.5"/><circle cx="149.8" cy="303.0" r="2.5"/><circle cx="151.4" cy="301.6" r="2.5"/><circle cx="151.3" cy="312.6" r="2.5"/><circle cx="151.3" cy="309.6" r="2.5"/><circle cx="150.9" cy="306.5" r="2.5"/><circle cx="151.0" cy="311.7" r="2.5"/><circle cx="151.3" cy="314.5" r="2.5"/><circle cx="150.8" cy="309.0" r="2.5"/><circle cx="151.0" cy="301.6" r="2.5"/><circle cx="151.4" cy="305.4" r="2.5"/><circle cx="151.4" cy="316.2" r="2.5"/><circle cx="152.5" cy="305.1" r="2.5"/><circle cx="152.1" cy="316.6" r="2.5"/><circle cx="153.0" cy="311.5" r="2.5"/><circle cx="152.6" cy="310.1" r="2.5"/><circle cx="153.0" cy="307.0" r="2.5"/><circle cx="152.1" cy="307.5" r="2.5"/><circle cx="152.1" cy="305.7" r="2.5"/><circle cx="152.8" cy="304.1" r="2.5"/><circle cx="152.5" cy="311.7" r="2.5"/><circle cx="152.8" cy="307.8" r="2.5"/><circle cx="153.8" cy="310.5" r="2.5"/><circle cx="153.6" cy="309.3" r="2.5"/><circle cx="154.2" cy="309.8" r="2.5"/><circle cx="153.6" cy="313.1" r="2.5"/><circle cx="153.8" cy="308.9" r="2.5"/><circle cx="154.2" cy="307.5" r="2.5"/><circle cx="154.3" cy="311.0" r="2.5"/><circle cx="153.8" cy="309.9" r="2.5"/><circle cx="154.4" cy="316.5" r="2.5"/><circle cx="155.3" cy="308.4" r="2.5"/><circle cx="155.4" cy="310.8" r="2.5"/><circle cx="155.4" cy="314.2" r="2.5"/><circle cx="155.0" cy="316.5" r="2.5"/><circle cx="155.1" cy="315.0" r="2.5"/><circle cx="155.3" cy="313.5" r="2.5"/><circle cx="155.0" cy="305.9" r="2.5"/><circle cx="155.5" cy="308.5" r="2.5"/><circle cx="157.2" cy="310.4" r="2.5"/><circle cx="156.9" cy="304.6" r="2.5"/><circle cx="157.2" cy="308.3" r="2.5"/><circle cx="156.8" cy="307.4" r="2.5"/><circle cx="157.3" cy="312.3" r="2.5"/><circle cx="157.1" cy="308.6" r="2.5"/><circle cx="156.4" cy="305.0" r="2.5"/><circle cx="156.5" cy="304.8" r="2.5"/><circle cx="157.1" cy="309.5" r="2.5"/><circle cx="157.3" cy="305.7" r="2.5"/><circle cx="156.9" cy="312.6" r="2.5"/><circle cx="158.3" cy="311.3" r="2.5"/><circle cx="158.2" cy="309.1" r="2.5"/><circle cx="158.3" cy="311.9" r="2.5"/><circle cx="158.3" cy="313.4" r="2.5"/><circle cx="158.6" cy="316.5" r="2.5"/><circle cx="158.5" cy="311.7" r="2.5"/><circle cx="159.9" cy="303.5" r="2.5"/><circle cx="159.4" cy="309.3" r="2.5"/><circle cx="159.3" cy="305.0" r="2.5"/><circle cx="159.7" cy="306.7" r="2.5"/><circle cx="161.2" cy="310.6" r="2.5"/><circle cx="161.0" cy="315.5" r="2.5"/><circle cx="161.2" cy="308.7" r="2.5"/><circle cx="160.7" cy="312.4" r="2.5"/><circle cx="161.3" cy="313.4" r="2.5"/><circle cx="161.6" cy="304.9" r="2.5"/><circle cx="161.1" cy="316.5" r="2.5"/><circle cx="161.4" cy="306.8" r="2.5"/><circle cx="161.4" cy="309.7" r="2.5"/><circle cx="161.2" cy="314.6" r="2.5"/><circle cx="161.2" cy="303.4" r="2.5"/><circle cx="162.4" cy="305.7" r="2.5"/><circle cx="163.0" cy="307.7" r="2.5"/><circle cx="163.0" cy="308.8" r="2.5"/><circle cx="162.7" cy="314.3" r="2.5"/><circle cx="162.9" cy="311.7" r="2.5"/><circle cx="162.7" cy="304.5" r="2.5"/><circle cx="162.3" cy="307.2" r="2.5"/><circle cx="164.6" cy="306.1" r="2.5"/><circle cx="164.1" cy="310.3" r="2.5"/><circle cx="164.6" cy="307.6" r="2.5"/><circle cx="164.3" cy="311.9" r="2.5"/><circle cx="164.5" cy="309.3" r="2.5"/><circle cx="163.7" cy="308.7" r="2.5"/><circle cx="164.0" cy="309.2" r="2.5"/><circle cx="164.5" cy="311.2" r="2.5"/><circle cx="165.3" cy="309.3" r="2.5"/><circle cx="165.1" cy="306.5" r="2.5"/><circle cx="165.4" cy="311.5" r="2.5"/><circle cx="165.4" cy="305.5" r="2.5"/><circle cx="166.7" cy="308.2" r="2.5"/><circle cx="167.5" cy="313.1" r="2.5"/><circle cx="167.5" cy="309.2" r="2.5"/><circle cx="167.3" cy="316.4" r="2.5"/><circle cx="167.3" cy="310.5" r="2.5"/><circle cx="167.1" cy="305.6" r="2.5"/><circle cx="166.9" cy="304.2" r="2.5"/><circle cx="166.7" cy="310.2" r="2.5"/><circle cx="166.9" cy="312.0" r="2.5"/><circle cx="166.8" cy="312.8" r="2.5"/><circle cx="166.8" cy="306.6" r="2.5"/><circle cx="175.5" cy="304.8" r="2.5"/><circle cx="175.1" cy="303.0" r="2.5"/><circle cx="175.4" cy="309.8" r="2.5"/><circle cx="175.8" cy="307.1" r="2.5"/><circle cx="175.9" cy="313.1" r="2.5"/><circle cx="175.9" cy="316.0" r="2.5"/><circle cx="175.5" cy="316.3" r="2.5"/><circle cx="175.7" cy="311.6" r="2.5"/><circle cx="176.1" cy="313.4" r="2.5"/><circle cx="176.0" cy="309.5" r="2.5"/><circle cx="175.9" cy="311.0" r="2.5"/><circle cx="176.8" cy="312.3" r="2.5"/><circle cx="177.3" cy="305.2" r="2.5"/><circle cx="176.8" cy="312.6" r="2.5"/><circle cx="177.0" cy="311.7" r="2.5"/><circle cx="177.1" cy="310.2" r="2.5"/><circle cx="177.1" cy="312.1" r="2.5"/><circle cx="177.5" cy="308.5" r="2.5"/><circle cx="177.2" cy="308.0" r="2.5"/><circle cx="177.1" cy="304.5" r="2.5"/><circle cx="177.2" cy="316.1" r="2.5"/><circle cx="177.1" cy="305.4" r="2.5"/><circle cx="178.3" cy="303.8" r="2.5"/><circle cx="178.3" cy="312.6" r="2.5"/><circle cx="178.3" cy="311.8" r="2.5"/><circle cx="178.9" cy="308.5" r="2.5"/><circle cx="178.8" cy="309.3" r="2.5"/><circle cx="178.8" cy="310.1" r="2.5"/><circle cx="178.9" cy="308.6" r="2.5"/><circle cx="178.8" cy="306.5" r="2.5"/><circle cx="178.5" cy="310.5" r="2.5"/><circle cx="179.6" cy="308.5" r="2.5"/><circle cx="179.9" cy="304.0" r="2.5"/><circle cx="180.4" cy="309.4" r="2.5"/><circle cx="180.4" cy="305.9" r="2.5"/><circle cx="179.8" cy="311.0" r="2.5"/><circle cx="180.1" cy="308.3" r="2.5"/><circle cx="179.8" cy="304.7" r="2.5"/><circle cx="179.7" cy="311.8" r="2.5"/><circle cx="180.4" cy="310.4" r="2.5"/><circle cx="180.0" cy="311.3" r="2.5"/><circle cx="181.5" cy="307.0" r="2.5"/><circle cx="181.6" cy="304.3" r="2.5"/><circle cx="181.1" cy="306.4" r="2.5"/><circle cx="181.7" cy="311.6" r="2.5"/><circle cx="181.3" cy="305.9" r="2.5"/><circle cx="181.5" cy="305.0" r="2.5"/><circle cx="181.6" cy="310.4" r="2.5"/><circle cx="182.4" cy="301.3" r="2.5"/><circle cx="182.9" cy="303.8" r="2.5"/><circle cx="182.8" cy="310.1" r="2.5"/><circle cx="183.2" cy="311.9" r="2.5"/><circle cx="182.7" cy="303.3" r="2.5"/><circle cx="183.9" cy="313.6" r="2.5"/><circle cx="184.2" cy="302.2" r="2.5"/><circle cx="184.3" cy="315.1" r="2.5"/><circle cx="183.9" cy="306.5" r="2.5"/><circle cx="185.4" cy="309.3" r="2.5"/><circle cx="185.7" cy="309.2" r="2.5"/><circle cx="185.8" cy="305.1" r="2.5"/><circle cx="185.3" cy="306.8" r="2.5"/><circle cx="185.6" cy="311.7" r="2.5"/><circle cx="186.0" cy="310.4" r="2.5"/><circle cx="186.2" cy="315.2" r="2.5"/><circle cx="185.3" cy="303.9" r="2.5"/><circle cx="186.9" cy="303.6" r="2.5"/><circle cx="187.6" cy="314.4" r="2.5"/><circle cx="187.3" cy="304.5" r="2.5"/><circle cx="187.3" cy="305.3" r="2.5"/><circle cx="187.0" cy="309.9" r="2.5"/><circle cx="186.9" cy="310.7" r="2.5"/><circle cx="187.5" cy="311.6" r="2.5"/><circle cx="187.2" cy="301.2" r="2.5"/><circle cx="187.4" cy="315.7" r="2.5"/><circle cx="187.4" cy="310.9" r="2.5"/><circle cx="188.8" cy="312.1" r="2.5"/><circle cx="188.4" cy="303.2" r="2.5"/><circle cx="189.0" cy="307.2" r="2.5"/><circle cx="188.6" cy="301.2" r="2.5"/><circle cx="188.7" cy="312.4" r="2.5"/><circle cx="188.3" cy="308.9" r="2.5"/><circle cx="189.1" cy="310.9" r="2.5"/><circle cx="188.5" cy="314.1" r="2.5"/><circle cx="188.4" cy="312.7" r="2.5"/><circle cx="188.9" cy="306.2" r="2.5"/><circle cx="188.7" cy="312.7" r="2.5"/><circle cx="189.1" cy="310.8" r="2.5"/><circle cx="188.5" cy="314.0" r="2.5"/><circle cx="188.8" cy="310.6" r="2.5"/><circle cx="188.3" cy="313.1" r="2.5"/><circle cx="188.2" cy="305.3" r="2.5"/><circle cx="190.6" cy="305.6" r="2.5"/><circle cx="189.9" cy="310.8" r="2.5"/><circle cx="190.2" cy="303.9" r="2.5"/><circle cx="190.0" cy="306.1" r="2.5"/><circle cx="190.6" cy="309.0" r="2.5"/><circle cx="190.5" cy="307.5" r="2.5"/><circle cx="189.9" cy="305.2" r="2.5"/><circle cx="190.4" cy="303.9" r="2.5"/><circle cx="190.5" cy="305.3" r="2.5"/><circle cx="189.9" cy="304.9" r="2.5"/><circle cx="190.6" cy="306.3" r="2.5"/><circle cx="189.8" cy="310.0" r="2.5"/><circle cx="192.0" cy="311.9" r="2.5"/><circle cx="192.1" cy="308.2" r="2.5"/><circle cx="191.9" cy="313.3" r="2.5"/><circle cx="191.2" cy="306.0" r="2.5"/><circle cx="191.7" cy="308.1" r="2.5"/><circle cx="191.7" cy="306.2" r="2.5"/><circle cx="193.4" cy="308.8" r="2.5"/><circle cx="192.9" cy="313.5" r="2.5"/><circle cx="193.3" cy="307.4" r="2.5"/><circle cx="193.2" cy="307.9" r="2.5"/><circle cx="192.7" cy="305.7" r="2.5"/><circle cx="193.1" cy="310.7" r="2.5"/><circle cx="193.5" cy="308.4" r="2.5"/><circle cx="193.3" cy="305.5" r="2.5"/><circle cx="192.7" cy="305.3" r="2.5"/><circle cx="194.7" cy="311.3" r="2.5"/><circle cx="194.8" cy="313.2" r="2.5"/><circle cx="194.8" cy="311.4" r="2.5"/><circle cx="194.9" cy="307.8" r="2.5"/><circle cx="194.9" cy="306.0" r="2.5"/><circle cx="194.4" cy="308.7" r="2.5"/><circle cx="194.9" cy="306.9" r="2.5"/><circle cx="194.8" cy="302.1" r="2.5"/><circle cx="195.0" cy="309.5" r="2.5"/><circle cx="194.2" cy="308.1" r="2.5"/><circle cx="194.8" cy="305.4" r="2.5"/><circle cx="194.4" cy="311.9" r="2.5"/><circle cx="194.2" cy="308.0" r="2.5"/><circle cx="194.9" cy="309.4" r="2.5"/><circle cx="195.5" cy="307.8" r="2.5"/><circle cx="196.3" cy="307.5" r="2.5"/><circle cx="196.1" cy="312.3" r="2.5"/><circle cx="195.7" cy="306.6" r="2.5"/><circle cx="196.4" cy="307.3" r="2.5"/><circle cx="195.8" cy="311.7" r="2.5"/><circle cx="196.4" cy="309.3" r="2.5"/><circle cx="195.7" cy="305.1" r="2.5"/><circle cx="195.9" cy="313.9" r="2.5"/><circle cx="196.1" cy="304.7" r="2.5"/><circle cx="195.8" cy="308.8" r="2.5"/><circle cx="195.6" cy="307.3" r="2.5"/><circle cx="195.9" cy="307.6" r="2.5"/><circle cx="197.8" cy="307.7" r="2.5"/><circle cx="197.8" cy="309.6" r="2.5"/><circle cx="197.8" cy="310.5" r="2.5"/><circle cx="197.5" cy="304.9" r="2.5"/><circle cx="197.8" cy="307.7" r="2.5"/><circle cx="197.9" cy="316.1" r="2.5"/><circle cx="197.0" cy="309.8" r="2.5"/><circle cx="197.5" cy="306.2" r="2.5"/><circle cx="197.4" cy="305.9" r="2.5"/><circle cx="197.7" cy="308.6" r="2.5"/><circle cx="197.8" cy="304.0" r="2.5"/><circle cx="197.9" cy="315.2" r="2.5"/><circle cx="197.4" cy="312.5" r="2.5"/><circle cx="198.7" cy="308.6" r="2.5"/><circle cx="199.4" cy="312.1" r="2.5"/><circle cx="199.4" cy="316.0" r="2.5"/><circle cx="199.2" cy="310.3" r="2.5"/><circle cx="198.7" cy="305.6" r="2.5"/><circle cx="198.6" cy="305.5" r="2.5"/><circle cx="199.1" cy="304.3" r="2.5"/><circle cx="199.4" cy="308.3" r="2.5"/><circle cx="198.4" cy="301.0" r="2.5"/><circle cx="199.9" cy="310.3" r="2.5"/><circle cx="200.1" cy="309.8" r="2.5"/><circle cx="200.4" cy="312.7" r="2.5"/><circle cx="200.7" cy="313.0" r="2.5"/><circle cx="200.3" cy="307.9" r="2.5"/><circle cx="200.1" cy="310.2" r="2.5"/><circle cx="200.1" cy="307.2" r="2.5"/><circle cx="200.7" cy="301.0" r="2.5"/><circle cx="200.2" cy="307.1" r="2.5"/><circle cx="200.6" cy="314.1" r="2.5"/><circle cx="200.4" cy="306.6" r="2.5"/><circle cx="200.2" cy="307.9" r="2.5"/><circle cx="201.5" cy="310.7" r="2.5"/><circle cx="202.0" cy="305.0" r="2.5"/><circle cx="202.3" cy="308.6" r="2.5"/><circle cx="202.1" cy="305.7" r="2.5"/><circle cx="201.7" cy="305.5" r="2.5"/><circle cx="202.3" cy="306.3" r="2.5"/><circle cx="202.2" cy="307.4" r="2.5"/><circle cx="202.3" cy="306.9" r="2.5"/><circle cx="201.6" cy="314.0" r="2.5"/><circle cx="201.8" cy="308.3" r="2.5"/><circle cx="201.4" cy="309.6" r="2.5"/><circle cx="202.1" cy="304.1" r="2.5"/><circle cx="202.0" cy="307.4" r="2.5"/><circle cx="202.3" cy="311.5" r="2.5"/><circle cx="203.1" cy="307.1" r="2.5"/><circle cx="203.3" cy="303.4" r="2.5"/><circle cx="204.3" cy="308.9" r="2.5"/><circle cx="204.4" cy="304.5" r="2.5"/><circle cx="204.8" cy="309.7" r="2.5"/><circle cx="204.5" cy="308.8" r="2.5"/><circle cx="204.7" cy="308.9" r="2.5"/><circle cx="205.2" cy="309.2" r="2.5"/><circle cx="204.4" cy="309.8" r="2.5"/><circle cx="205.1" cy="309.9" r="2.5"/><circle cx="204.6" cy="304.3" r="2.5"/><circle cx="204.8" cy="310.0" r="2.5"/><circle cx="206.3" cy="304.6" r="2.5"/><circle cx="205.9" cy="313.9" r="2.5"/><circle cx="206.2" cy="309.0" r="2.5"/><circle cx="206.5" cy="310.9" r="2.5"/><circle cx="206.0" cy="312.3" r="2.5"/><circle cx="206.1" cy="304.1" r="2.5"/><circle cx="206.7" cy="306.5" r="2.5"/><circle cx="206.3" cy="312.0" r="2.5"/><circle cx="205.8" cy="310.3" r="2.5"/><circle cx="214.7" cy="305.0" r="2.5"/><circle cx="214.6" cy="309.8" r="2.5"/><circle cx="215.4" cy="311.7" r="2.5"/><circle cx="214.8" cy="303.6" r="2.5"/><circle cx="215.2" cy="307.6" r="2.5"/><circle cx="215.1" cy="302.2" r="2.5"/><circle cx="215.2" cy="308.5" r="2.5"/><circle cx="214.8" cy="304.9" r="2.5"/><circle cx="215.0" cy="305.5" r="2.5"/><circle cx="215.1" cy="314.5" r="2.5"/><circle cx="215.0" cy="304.7" r="2.5"/><circle cx="214.8" cy="303.9" r="2.5"/><circle cx="216.2" cy="302.0" r="2.5"/><circle cx="216.1" cy="307.0" r="2.5"/><circle cx="216.4" cy="314.1" r="2.5"/><circle cx="216.9" cy="313.3" r="2.5"/><circle cx="216.0" cy="306.0" r="2.5"/><circle cx="217.0" cy="306.5" r="2.5"/><circle cx="216.4" cy="310.3" r="2.5"/><circle cx="216.3" cy="304.5" r="2.5"/><circle cx="216.6" cy="304.7" r="2.5"/><circle cx="217.7" cy="313.4" r="2.5"/><circle cx="218.5" cy="308.6" r="2.5"/><circle cx="218.0" cy="310.3" r="2.5"/><circle cx="218.3" cy="312.6" r="2.5"/><circle cx="218.1" cy="310.9" r="2.5"/><circle cx="218.4" cy="304.6" r="2.5"/><circle cx="218.4" cy="314.3" r="2.5"/><circle cx="218.3" cy="307.3" r="2.5"/><circle cx="217.6" cy="312.1" r="2.5"/><circle cx="217.6" cy="311.2" r="2.5"/><circle cx="218.4" cy="305.5" r="2.5"/><circle cx="219.5" cy="307.7" r="2.5"/><circle cx="219.6" cy="305.5" r="2.5"/><circle cx="219.3" cy="308.0" r="2.5"/><circle cx="219.3" cy="311.4" r="2.5"/><circle cx="219.8" cy="306.5" r="2.5"/><circle cx="219.7" cy="305.4" r="2.5"/><circle cx="221.5" cy="303.8" r="2.5"/><circle cx="220.9" cy="308.9" r="2.5"/><circle cx="221.3" cy="306.9" r="2.5"/><circle cx="221.2" cy="309.3" r="2.5"/><circle cx="220.9" cy="310.1" r="2.5"/><circle cx="220.9" cy="314.0" r="2.5"/><circle cx="221.0" cy="313.2" r="2.5"/><circle cx="221.4" cy="310.0" r="2.5"/><circle cx="221.1" cy="300.7" r="2.5"/><circle cx="222.9" cy="306.4" r="2.5"/><circle cx="222.4" cy="306.8" r="2.5"/><circle cx="222.0" cy="308.7" r="2.5"/><circle cx="222.4" cy="306.0" r="2.5"/><circle cx="223.0" cy="306.3" r="2.5"/><circle cx="222.7" cy="306.1" r="2.5"/><circle cx="222.7" cy="315.7" r="2.5"/><circle cx="223.5" cy="303.7" r="2.5"/><circle cx="223.5" cy="302.8" r="2.5"/><circle cx="224.0" cy="302.1" r="2.5"/><circle cx="223.7" cy="305.5" r="2.5"/><circle cx="223.8" cy="312.0" r="2.5"/><circle cx="223.5" cy="308.0" r="2.5"/><circle cx="224.1" cy="306.1" r="2.5"/><circle cx="224.1" cy="311.9" r="2.5"/><circle cx="224.0" cy="309.1" r="2.5"/><circle cx="225.6" cy="310.7" r="2.5"/><circle cx="225.4" cy="302.0" r="2.5"/><circle cx="225.7" cy="309.2" r="2.5"/><circle cx="225.9" cy="315.5" r="2.5"/><circle cx="225.4" cy="308.6" r="2.5"/><circle cx="225.4" cy="312.1" r="2.5"/><circle cx="225.7" cy="310.0" r="2.5"/><circle cx="225.4" cy="303.6" r="2.5"/><circle cx="225.5" cy="309.0" r="2.5"/><circle cx="225.4" cy="306.8" r="2.5"/><circle cx="225.8" cy="302.3" r="2.5"/><circle cx="225.4" cy="307.2" r="2.5"/><circle cx="225.7" cy="300.6" r="2.5"/><circle cx="225.5" cy="303.6" r="2.5"/><circle cx="225.0" cy="307.1" r="2.5"/><circle cx="227.4" cy="310.2" r="2.5"/><circle cx="227.0" cy="308.4" r="2.5"/><circle cx="226.6" cy="302.8" r="2.5"/><circle cx="227.0" cy="307.1" r="2.5"/><circle cx="227.1" cy="306.6" r="2.5"/><circle cx="226.9" cy="311.0" r="2.5"/><circle cx="227.3" cy="308.0" r="2.5"/><circle cx="227.0" cy="304.1" r="2.5"/><circle cx="227.4" cy="309.9" r="2.5"/><circle cx="226.7" cy="306.7" r="2.5"/><circle cx="226.6" cy="305.9" r="2.5"/><circle cx="228.6" cy="308.6" r="2.5"/><circle cx="228.9" cy="315.1" r="2.5"/><circle cx="228.6" cy="309.5" r="2.5"/><circle cx="228.3" cy="315.5" r="2.5"/><circle cx="229.0" cy="309.9" r="2.5"/><circle cx="228.9" cy="310.2" r="2.5"/><circle cx="228.9" cy="308.5" r="2.5"/><circle cx="229.6" cy="307.0" r="2.5"/><circle cx="229.6" cy="308.1" r="2.5"/><circle cx="230.4" cy="315.5" r="2.5"/><circle cx="229.9" cy="306.0" r="2.5"/><circle cx="229.8" cy="308.7" r="2.5"/><circle cx="231.2" cy="307.9" r="2.5"/><circle cx="231.2" cy="312.2" r="2.5"/><circle cx="231.1" cy="306.7" r="2.5"/><circle cx="231.6" cy="306.9" r="2.5"/><circle cx="231.1" cy="308.7" r="2.5"/><circle cx="231.9" cy="305.7" r="2.5"/><circle cx="231.8" cy="307.3" r="2.5"/><circle cx="231.4" cy="304.6" r="2.5"/><circle cx="231.8" cy="315.5" r="2.5"/><circle cx="231.7" cy="310.7" r="2.5"/><circle cx="231.2" cy="305.1" r="2.5"/><circle cx="231.8" cy="307.7" r="2.5"/><circle cx="233.1" cy="309.7" r="2.5"/><circle cx="233.4" cy="311.3" r="2.5"/><circle cx="233.1" cy="305.6" r="2.5"/><circle cx="232.6" cy="304.2" r="2.5"/><circle cx="232.7" cy="306.1" r="2.5"/><circle cx="233.0" cy="307.2" r="2.5"/><circle cx="233.2" cy="309.6" r="2.5"/><circle cx="233.4" cy="310.3" r="2.5"/><circle cx="233.0" cy="302.5" r="2.5"/><circle cx="232.8" cy="311.6" r="2.5"/><circle cx="234.4" cy="305.0" r="2.5"/><circle cx="234.5" cy="307.6" r="2.5"/><circle cx="234.2" cy="302.0" r="2.5"/><circle cx="234.4" cy="309.2" r="2.5"/><circle cx="236.0" cy="310.6" r="2.5"/><circle cx="236.0" cy="311.8" r="2.5"/><circle cx="236.4" cy="315.4" r="2.5"/><circle cx="236.2" cy="304.1" r="2.5"/><circle cx="236.2" cy="308.4" r="2.5"/><circle cx="237.5" cy="311.3" r="2.5"/><circle cx="237.4" cy="306.0" r="2.5"/><circle cx="237.8" cy="302.7" r="2.5"/><circle cx="237.2" cy="307.4" r="2.5"/><circle cx="237.2" cy="303.6" r="2.5"/><circle cx="237.1" cy="310.9" r="2.5"/><circle cx="237.3" cy="306.9" r="2.5"/><circle cx="237.2" cy="306.6" r="2.5"/><circle cx="237.7" cy="305.1" r="2.5"/><circle cx="237.8" cy="307.7" r="2.5"/><circle cx="239.1" cy="313.1" r="2.5"/><circle cx="239.3" cy="305.7" r="2.5"/><circle cx="239.3" cy="311.3" r="2.5"/><circle cx="239.1" cy="304.1" r="2.5"/><circle cx="238.7" cy="311.9" r="2.5"/><circle cx="239.2" cy="304.3" r="2.5"/><circle cx="239.4" cy="312.7" r="2.5"/><circle cx="238.7" cy="306.5" r="2.5"/><circle cx="240.0" cy="311.1" r="2.5"/><circle cx="240.9" cy="307.8" r="2.5"/><circle cx="240.5" cy="311.1" r="2.5"/><circle cx="240.5" cy="307.6" r="2.5"/><circle cx="240.2" cy="304.4" r="2.5"/><circle cx="240.5" cy="304.3" r="2.5"/><circle cx="240.9" cy="302.0" r="2.5"/><circle cx="240.0" cy="307.5" r="2.5"/><circle cx="240.9" cy="305.8" r="2.5"/><circle cx="240.8" cy="307.5" r="2.5"/><circle cx="240.1" cy="307.5" r="2.5"/><circle cx="240.7" cy="304.9" r="2.5"/><circle cx="240.9" cy="308.1" r="2.5"/><circle cx="240.8" cy="308.1" r="2.5"/><circle cx="240.5" cy="311.1" r="2.5"/><circle cx="240.7" cy="304.2" r="2.5"/><circle cx="240.8" cy="306.5" r="2.5"/><circle cx="240.9" cy="312.8" r="2.5"/><circle cx="240.2" cy="309.1" r="2.5"/><circle cx="255.0" cy="307.4" r="2.5"/><circle cx="254.6" cy="309.9" r="2.5"/><circle cx="255.1" cy="307.7" r="2.5"/><circle cx="255.3" cy="308.7" r="2.5"/><circle cx="254.7" cy="300.0" r="2.5"/><circle cx="254.9" cy="313.9" r="2.5"/><circle cx="254.4" cy="305.4" r="2.5"/><circle cx="254.6" cy="310.1" r="2.5"/><circle cx="256.8" cy="313.0" r="2.5"/><circle cx="256.4" cy="307.1" r="2.5"/><circle cx="256.7" cy="299.9" r="2.5"/><circle cx="256.7" cy="303.1" r="2.5"/><circle cx="256.2" cy="313.6" r="2.5"/><circle cx="256.0" cy="311.1" r="2.5"/><circle cx="256.5" cy="299.9" r="2.5"/><circle cx="258.2" cy="306.1" r="2.5"/><circle cx="258.1" cy="307.0" r="2.5"/><circle cx="257.5" cy="306.3" r="2.5"/><circle cx="258.0" cy="304.6" r="2.5"/><circle cx="257.4" cy="311.9" r="2.5"/><circle cx="257.7" cy="309.2" r="2.5"/><circle cx="257.7" cy="309.1" r="2.5"/><circle cx="259.3" cy="310.5" r="2.5"/><circle cx="259.7" cy="305.2" r="2.5"/><circle cx="259.0" cy="304.2" r="2.5"/><circle cx="259.1" cy="303.7" r="2.5"/><circle cx="259.8" cy="307.6" r="2.5"/><circle cx="259.3" cy="304.8" r="2.5"/><circle cx="259.8" cy="309.7" r="2.5"/><circle cx="259.6" cy="307.3" r="2.5"/><circle cx="261.0" cy="309.3" r="2.5"/><circle cx="260.7" cy="304.0" r="2.5"/><circle cx="261.0" cy="306.2" r="2.5"/><circle cx="260.8" cy="308.9" r="2.5"/><circle cx="261.2" cy="307.2" r="2.5"/><circle cx="260.6" cy="308.5" r="2.5"/><circle cx="261.0" cy="301.9" r="2.5"/><circle cx="261.4" cy="310.9" r="2.5"/><circle cx="262.7" cy="307.1" r="2.5"/><circle cx="262.4" cy="304.9" r="2.5"/><circle cx="262.7" cy="302.6" r="2.5"/><circle cx="262.0" cy="308.0" r="2.5"/><circle cx="262.0" cy="310.9" r="2.5"/><circle cx="262.9" cy="305.1" r="2.5"/><circle cx="262.7" cy="310.0" r="2.5"/><circle cx="262.0" cy="303.0" r="2.5"/><circle cx="262.2" cy="309.8" r="2.5"/><circle cx="262.6" cy="307.8" r="2.5"/><circle cx="261.9" cy="303.8" r="2.5"/><circle cx="262.3" cy="306.5" r="2.5"/><circle cx="262.3" cy="303.0" r="2.5"/><circle cx="262.4" cy="306.7" r="2.5"/><circle cx="264.3" cy="305.2" r="2.5"/><circle cx="264.3" cy="302.1" r="2.5"/><circle cx="264.2" cy="303.3" r="2.5"/><circle cx="264.4" cy="310.4" r="2.5"/><circle cx="263.7" cy="301.4" r="2.5"/><circle cx="263.9" cy="305.0" r="2.5"/><circle cx="264.0" cy="314.1" r="2.5"/><circle cx="264.4" cy="302.5" r="2.5"/><circle cx="263.8" cy="306.5" r="2.5"/><circle cx="263.5" cy="302.8" r="2.5"/><circle cx="263.6" cy="308.9" r="2.5"/><circle cx="263.7" cy="304.7" r="2.5"/><circle cx="265.0" cy="301.8" r="2.5"/><circle cx="265.4" cy="312.7" r="2.5"/><circle cx="265.0" cy="312.8" r="2.5"/><circle cx="265.4" cy="307.4" r="2.5"/><circle cx="265.9" cy="313.7" r="2.5"/><circle cx="265.7" cy="306.1" r="2.5"/><circle cx="267.1" cy="307.7" r="2.5"/><circle cx="267.0" cy="309.7" r="2.5"/><circle cx="267.2" cy="303.0" r="2.5"/><circle cx="266.7" cy="312.0" r="2.5"/><circle cx="266.8" cy="306.9" r="2.5"/><circle cx="267.4" cy="308.4" r="2.5"/><circle cx="266.8" cy="307.5" r="2.5"/><circle cx="266.7" cy="303.3" r="2.5"/><circle cx="267.2" cy="310.8" r="2.5"/><circle cx="267.1" cy="313.0" r="2.5"/><circle cx="268.9" cy="306.8" r="2.5"/><circle cx="268.4" cy="303.1" r="2.5"/><circle cx="268.4" cy="311.2" r="2.5"/><circle cx="268.5" cy="301.1" r="2.5"/><circle cx="268.1" cy="304.1" r="2.5"/><circle cx="268.2" cy="299.6" r="2.5"/><circle cx="268.2" cy="302.9" r="2.5"/><circle cx="268.7" cy="303.3" r="2.5"/><circle cx="277.9" cy="299.3" r="2.5"/><circle cx="277.8" cy="307.8" r="2.5"/><circle cx="277.7" cy="312.5" r="2.5"/><circle cx="277.6" cy="302.9" r="2.5"/><circle cx="277.2" cy="305.4" r="2.5"/><circle cx="277.1" cy="307.6" r="2.5"/><circle cx="277.7" cy="311.0" r="2.5"/><circle cx="277.5" cy="304.7" r="2.5"/><circle cx="277.2" cy="305.8" r="2.5"/><circle cx="277.3" cy="309.0" r="2.5"/><circle cx="279.1" cy="310.2" r="2.5"/><circle cx="278.7" cy="302.5" r="2.5"/><circle cx="279.2" cy="311.4" r="2.5"/><circle cx="279.1" cy="311.8" r="2.5"/><circle cx="278.8" cy="306.9" r="2.5"/><circle cx="278.6" cy="301.5" r="2.5"/><circle cx="279.3" cy="305.2" r="2.5"/><circle cx="279.1" cy="305.6" r="2.5"/><circle cx="280.8" cy="307.5" r="2.5"/><circle cx="280.0" cy="306.2" r="2.5"/><circle cx="280.1" cy="309.8" r="2.5"/><circle cx="280.0" cy="300.6" r="2.5"/><circle cx="280.5" cy="314.2" r="2.5"/><circle cx="280.4" cy="306.9" r="2.5"/><circle cx="280.2" cy="308.9" r="2.5"/><circle cx="282.3" cy="311.0" r="2.5"/><circle cx="282.1" cy="311.7" r="2.5"/><circle cx="281.9" cy="308.3" r="2.5"/><circle cx="281.6" cy="306.2" r="2.5"/><circle cx="281.5" cy="306.2" r="2.5"/><circle cx="281.5" cy="309.6" r="2.5"/><circle cx="283.4" cy="304.3" r="2.5"/><circle cx="283.4" cy="309.4" r="2.5"/><circle cx="283.0" cy="312.1" r="2.5"/><circle cx="283.8" cy="309.4" r="2.5"/><circle cx="283.1" cy="301.0" r="2.5"/><circle cx="283.2" cy="314.1" r="2.5"/><circle cx="283.8" cy="302.7" r="2.5"/><circle cx="283.4" cy="309.9" r="2.5"/><circle cx="283.4" cy="304.3" r="2.5"/><circle cx="283.2" cy="303.3" r="2.5"/><circle cx="283.4" cy="302.7" r="2.5"/><circle cx="285.2" cy="301.0" r="2.5"/><circle cx="285.2" cy="303.3" r="2.5"/><circle cx="284.5" cy="306.8" r="2.5"/><circle cx="284.9" cy="310.6" r="2.5"/><circle cx="285.1" cy="314.0" r="2.5"/><circle cx="285.2" cy="309.1" r="2.5"/><circle cx="284.4" cy="310.2" r="2.5"/><circle cx="285.1" cy="305.2" r="2.5"/><circle cx="295.1" cy="310.5" r="2.5"/><circle cx="295.4" cy="304.2" r="2.5"/><circle cx="295.2" cy="305.8" r="2.5"/><circle cx="295.4" cy="308.2" r="2.5"/><circle cx="295.4" cy="307.4" r="2.5"/><circle cx="295.6" cy="307.9" r="2.5"/><circle cx="295.7" cy="313.6" r="2.5"/><circle cx="295.4" cy="309.9" r="2.5"/><circle cx="295.9" cy="301.5" r="2.5"/><circle cx="295.8" cy="311.0" r="2.5"/><circle cx="295.3" cy="302.5" r="2.5"/><circle cx="296.6" cy="301.3" r="2.5"/><circle cx="296.6" cy="305.4" r="2.5"/><circle cx="297.0" cy="306.1" r="2.5"/><circle cx="296.8" cy="303.3" r="2.5"/><circle cx="296.6" cy="306.7" r="2.5"/><circle cx="297.0" cy="305.1" r="2.5"/><circle cx="296.7" cy="309.0" r="2.5"/><circle cx="298.8" cy="307.1" r="2.5"/><circle cx="298.5" cy="307.8" r="2.5"/><circle cx="298.7" cy="313.5" r="2.5"/><circle cx="298.7" cy="313.5" r="2.5"/><circle cx="298.3" cy="307.0" r="2.5"/><circle cx="298.3" cy="312.6" r="2.5"/><circle cx="298.7" cy="308.2" r="2.5"/><circle cx="298.5" cy="305.4" r="2.5"/><circle cx="298.1" cy="309.3" r="2.5"/><circle cx="300.1" cy="304.0" r="2.5"/><circle cx="300.2" cy="298.4" r="2.5"/><circle cx="300.4" cy="300.7" r="2.5"/><circle cx="299.8" cy="309.8" r="2.5"/><circle cx="299.7" cy="313.5" r="2.5"/><circle cx="300.2" cy="305.9" r="2.5"/><circle cx="300.0" cy="307.4" r="2.5"/><circle cx="301.9" cy="312.6" r="2.5"/><circle cx="301.4" cy="308.6" r="2.5"/><circle cx="301.5" cy="307.4" r="2.5"/><circle cx="301.0" cy="312.8" r="2.5"/><circle cx="301.6" cy="306.4" r="2.5"/><circle cx="301.7" cy="302.0" r="2.5"/><circle cx="301.5" cy="310.2" r="2.5"/><circle cx="301.4" cy="313.4" r="2.5"/><circle cx="303.4" cy="304.8" r="2.5"/><circle cx="303.1" cy="307.2" r="2.5"/><circle cx="303.3" cy="306.0" r="2.5"/><circle cx="303.0" cy="304.1" r="2.5"/><circle cx="302.9" cy="308.5" r="2.5"/><circle cx="304.5" cy="306.8" r="2.5"/><circle cx="306.0" cy="305.4" r="2.5"/><circle cx="305.8" cy="304.1" r="2.5"/><circle cx="306.5" cy="312.7" r="2.5"/><circle cx="306.5" cy="310.5" r="2.5"/><circle cx="308.0" cy="306.4" r="2.5"/><circle cx="307.5" cy="304.5" r="2.5"/><circle cx="307.6" cy="311.4" r="2.5"/><circle cx="309.0" cy="305.9" r="2.5"/><circle cx="309.6" cy="303.6" r="2.5"/><circle cx="309.1" cy="303.9" r="2.5"/><circle cx="310.6" cy="300.5" r="2.5"/><circle cx="311.1" cy="308.6" r="2.5"/><circle cx="310.8" cy="298.6" r="2.5"/><circle cx="311.3" cy="307.2" r="2.5"/><circle cx="112.3" cy="302.2" r="2.5"/><circle cx="123.7" cy="302.2" r="2.5"/><circle cx="147.0" cy="299.9" r="2.5"/><circle cx="162.4" cy="298.2" r="2.5"/><circle cx="160.5" cy="300.1" r="2.5"/><circle cx="175.3" cy="297.1" r="2.5"/><circle cx="180.0" cy="299.6" r="2.5"/><circle cx="195.0" cy="300.6" r="2.5"/><circle cx="201.0" cy="300.6" r="2.5"/><circle cx="214.5" cy="293.1" r="2.5"/><circle cx="216.5" cy="297.6" r="2.5"/><circle cx="221.0" cy="300.6" r="2.5"/><circle cx="232.5" cy="299.6" r="2.5"/><circle cx="95.7" cy="318.7" r="2.5"/><circle cx="104.3" cy="317.4" r="2.5"/><circle cx="114.3" cy="318.1" r="2.5"/><circle cx="120.3" cy="314.9" r="2.5"/><circle cx="125.0" cy="315.4" r="2.5"/><circle cx="137.7" cy="316.4" r="2.5"/><circle cx="145.5" cy="320.4" r="2.5"/><circle cx="151.5" cy="317.2" r="2.5"/><circle cx="164.8" cy="318.4" r="2.5"/><circle cx="182.5" cy="320.4" r="2.5"/><circle cx="190.0" cy="318.4" r="2.5"/><circle cx="199.0" cy="316.2" r="2.5"/><circle cx="215.0" cy="314.9" r="2.5"/><circle cx="223.8" cy="319.4" r="2.5"/><circle cx="247.0" cy="310.8" r="2.5"/><circle cx="255.7" cy="291.7" r="2.5"/><circle cx="255.2" cy="294.5" r="2.5"/><circle cx="266.0" cy="293.6" r="2.5"/><circle cx="272.8" cy="299.5" r="2.5"/><circle cx="278.7" cy="301.5" r="2.5"/><circle cx="298.2" cy="293.6" r="2.5"/><circle cx="304.0" cy="294.3" r="2.5"/><circle cx="272.8" cy="315.1" r="2.5"/><circle cx="279.0" cy="317.5" r="2.5"/><circle cx="301.6" cy="316.5" r="2.5"/><circle cx="314.3" cy="303.3" r="2.5"/><circle cx="323.6" cy="304.9" r="2.5"/><circle cx="325.8" cy="302.4" r="2.5"/><circle cx="337.4" cy="313.2" r="2.5"/><circle cx="343.4" cy="302.1" r="2.5"/><circle cx="351.9" cy="298.4" r="2.5"/><circle cx="362.2" cy="296.8" r="2.5"/><circle cx="542.3" cy="135.0" r="2.5"/><circle cx="548.1" cy="155.2" r="2.5"/><circle cx="555.1" cy="184.2" r="2.5"/><circle cx="560.7" cy="205.9" r="2.5"/><circle cx="572.7" cy="227.3" r="2.5"/></g>
<path d="M87.5 309.51 L88.5 309.50 L89.5 309.50 L90.5 309.49 L91.5 309.49 L92.5 309.48 L93.5 309.48 L94.5 309.47 L95.5 309.46 L96.5 309.46 L97.5 309.45 L98.5 309.45 L99.5 309.44 L100.5 309.44 L101.5 309.43 L102.5 309.43 L103.5 309.42 L104.5 309.41 L105.5 309.41 L106.5 309.40 L107.5 309.40 L108.5 309.39 L109.5 309.38 L110.5 309.38 L111.5 309.37 L112.5 309.37 L113.5 309.36 L114.5 309.35 L115.5 309.35 L116.5 309.34 L117.5 309.33 L118.5 309.33 L119.5 309.32 L120.5 309.31 L121.5 309.31 L122.5 309.30 L123.5 309.29 L124.5 309.29 L125.5 309.28 L126.5 309.27 L127.5 309.27 L128.5 309.26 L129.5 309.25 L130.5 309.24 L131.5 309.24 L132.5 309.23 L133.5 309.22 L134.5 309.21 L135.5 309.21 L136.5 309.20 L137.5 309.19 L138.5 309.18 L139.5 309.18 L140.5 309.17 L141.5 309.16 L142.5 309.15 L143.5 309.14 L144.5 309.13 L145.5 309.13 L146.5 309.12 L147.5 309.11 L148.5 309.10 L149.5 309.09 L150.5 309.08 L151.5 309.07 L152.5 309.07 L153.5 309.06 L154.5 309.05 L155.5 309.04 L156.5 309.03 L157.5 309.02 L158.5 309.01 L159.5 309.00 L160.5 308.99 L161.5 308.98 L162.5 308.97 L163.5 308.96 L164.5 308.95 L165.5 308.94 L166.5 308.93 L167.5 308.92 L168.5 308.91 L169.5 308.90 L170.5 308.89 L171.5 308.88 L172.5 308.87 L173.5 308.86 L174.5 308.85 L175.5 308.83 L176.5 308.82 L177.5 308.81 L178.5 308.80 L179.5 308.79 L180.5 308.78 L181.5 308.76 L182.5 308.75 L183.5 308.74 L184.5 308.73 L185.5 308.72 L186.5 308.70 L187.5 308.69 L188.5 308.68 L189.5 308.67 L190.5 308.65 L191.5 308.64 L192.5 308.63 L193.5 308.61 L194.5 308.60 L195.5 308.59 L196.5 308.57 L197.5 308.56 L198.5 308.54 L199.5 308.53 L200.5 308.52 L201.5 308.50 L202.5 308.49 L203.5 308.47 L204.5 308.46 L205.5 308.44 L206.5 308.43 L207.5 308.41 L208.5 308.40 L209.5 308.38 L210.5 308.36 L211.5 308.35 L212.5 308.33 L213.5 308.32 L214.5 308.30 L215.5 308.28 L216.5 308.27 L217.5 308.25 L218.5 308.23 L219.5 308.21 L220.5 308.20 L221.5 308.18 L222.5 308.16 L223.5 308.14 L224.5 308.12 L225.5 308.11 L226.5 308.09 L227.5 308.07 L228.5 308.05 L229.5 308.03 L230.5 308.01 L231.5 307.99 L232.5 307.97 L233.5 307.95 L234.5 307.93 L235.5 307.91 L236.5 307.89 L237.5 307.87 L238.5 307.85 L239.5 307.82 L240.5 307.80 L241.5 307.78 L242.5 307.76 L243.5 307.74 L244.5 307.71 L245.5 307.69 L246.5 307.67 L247.5 307.64 L248.5 307.62 L249.5 307.60 L250.5 307.57 L251.5 307.55 L252.5 307.52 L253.5 307.50 L254.5 307.47 L255.5 307.45 L256.5 307.42 L257.5 307.39 L258.5 307.37 L259.5 307.34 L260.5 307.31 L261.5 307.29 L262.5 307.26 L263.5 307.23 L264.5 307.20 L265.5 307.17 L266.5 307.14 L267.5 307.11 L268.5 307.08 L269.5 307.05 L270.5 307.02 L271.5 306.99 L272.5 306.96 L273.5 306.93 L274.5 306.90 L275.5 306.87 L276.5 306.83 L277.5 306.80 L278.5 306.77 L279.5 306.73 L280.5 306.70 L281.5 306.67 L282.5 306.63 L283.5 306.60 L284.5 306.56 L285.5 306.52 L286.5 306.49 L287.5 306.45 L288.5 306.41 L289.5 306.37 L290.5 306.34 L291.5 306.30 L292.5 306.26 L293.5 306.22 L294.5 306.18 L295.5 306.14 L296.5 306.10 L297.5 306.05 L298.5 306.01 L299.5 305.97 L300.5 305.93 L301.5 305.88 L302.5 305.84 L303.5 305.79 L304.5 305.75 L305.5 305.70 L306.5 305.65 L307.5 305.61 L308.5 305.56 L309.5 305.51 L310.5 305.46 L311.5 305.41 L312.5 305.36 L313.5 305.31 L314.5 305.26 L315.5 305.21 L316.5 305.16 L317.5 305.10 L318.5 305.05 L319.5 304.99 L320.5 304.94 L321.5 304.88 L322.5 304.82 L323.5 304.77 L324.5 304.71 L325.5 304.65 L326.5 304.59 L327.5 304.53 L328.5 304.47 L329.5 304.40 L330.5 304.34" stroke="#f0f" stroke-width="0.78" fill="none" stroke-linejoin="round"/>
<path d="M330.5 304.34 L331.5 304.28 L332.5 304.21 L333.5 304.15 L334.5 304.08 L335.5 304.01 L336.5 303.95 L337.5 303.88 L338.5 303.81 L339.5 303.73 L340.5 303.66 L341.5 303.59 L342.5 303.52 L343.5 303.44 L344.5 303.36 L345.5 303.29 L346.5 303.21 L347.5 303.13 L348.5 303.05 L349.5 302.97 L350.5 302.89 L351.5 302.80 L352.5 302.72 L353.5 302.63 L354.5 302.54 L355.5 302.46 L356.5 302.37 L357.5 302.28 L358.5 302.18 L359.5 302.09 L360.5 301.99 L361.5 301.90 L362.5 301.80 L363.5 301.70 L364.5 301.60 L365.5 301.50 L366.5 301.40 L367.5 301.29 L368.5 301.19 L369.5 301.08 L370.5 300.97 L371.5 300.86 L372.5 300.74 L373.5 300.63 L374.5 300.51 L375.5 300.40 L376.5 300.28 L377.5 300.15 L378.5 300.03 L379.5 299.91 L380.5 299.78 L381.5 299.65 L382.5 299.52 L383.5 299.39 L384.5 299.25 L385.5 299.11 L386.5 298.97 L387.5 298.83 L388.5 298.69 L389.5 298.54 L390.5 298.40 L391.5 298.24 L392.5 298.09 L393.5 297.94 L394.5 297.78 L395.5 297.62 L396.5 297.45 L397.5 297.29 L398.5 297.12 L399.5 296.95 L400.5 296.78 L401.5 296.60 L402.5 296.42 L403.5 296.24 L404.5 296.05 L405.5 295.86 L406.5 295.67 L407.5 295.47 L408.5 295.27 L409.5 295.07 L410.5 294.87 L411.5 294.66 L412.5 294.44 L413.5 294.23 L414.5 294.01 L415.5 293.78 L416.5 293.55 L417.5 293.32 L418.5 293.09 L419.5 292.84 L420.5 292.60 L421.5 292.35 L422.5 292.10 L423.5 291.84 L424.5 291.57 L425.5 291.30 L426.5 291.03 L427.5 290.75 L428.5 290.47 L429.5 290.18 L430.5 289.88 L431.5 289.58 L432.5 289.28 L433.5 288.96 L434.5 288.64 L435.5 288.32 L436.5 287.99 L437.5 287.65 L438.5 287.30 L439.5 286.95 L440.5 286.59 L441.5 286.23 L442.5 285.85 L443.5 285.47 L444.5 285.08 L445.5 284.68 L446.5 284.27 L447.5 283.86 L448.5 283.43 L449.5 283.00 L450.5 282.56 L451.5 282.11 L452.5 281.64 L453.5 281.17 L454.5 280.68 L455.5 280.19 L456.5 279.68 L457.5 279.16 L458.5 278.63 L459.5 278.09 L460.5 277.53 L461.5 276.97 L462.5 276.38 L463.5 275.79 L464.5 275.17 L465.5 274.55 L466.5 273.90 L467.5 273.25 L468.5 272.57 L469.5 271.88 L470.5 271.16 L471.5 270.43 L472.5 269.69 L473.5 268.92 L474.5 268.13 L475.5 267.31 L476.5 266.48 L477.5 265.62 L478.5 264.74 L479.5 263.83 L480.5 262.90 L481.5 261.94 L482.5 260.95 L483.5 259.94 L484.5 258.89 L485.5 257.81 L486.5 256.70 L487.5 255.55 L488.5 254.36 L489.5 253.14 L490.5 251.88 L491.5 250.58 L492.5 249.24 L493.5 247.85 L494.5 246.41 L495.5 244.92 L496.5 243.39 L497.5 241.80 L498.5 240.15 L499.5 238.45 L500.5 236.68 L501.5 234.85 L502.5 232.95 L503.5 230.98 L504.5 228.94 L505.5 226.82 L506.5 224.62 L507.5 222.33 L508.5 219.95 L509.5 217.49 L510.5 214.92 L511.5 212.26 L512.5 209.49 L513.5 206.61 L514.5 203.63 L515.5 200.53 L516.5 197.31 L517.5 193.97 L518.5 190.52 L519.5 186.95 L520.5 183.26 L521.5 179.46 L522.5 175.57 L523.5 171.58 L524.5 167.52 L525.5 163.42 L526.5 159.29 L527.5 155.18 L528.5 151.14 L529.5 147.21 L530.5 143.46 L531.5 139.97 L532.5 136.80 L533.5 134.05 L534.5 131.78 L535.5 130.07 L536.5 128.97 L537.5 128.53 L538.5 128.76 L539.5 129.65 L540.5 131.17 L541.5 133.27 L542.5 135.88 L543.5 138.93 L544.5 142.33 L545.5 146.01 L546.5 149.88 L547.5 153.90 L548.5 157.99 L549.5 162.12 L550.5 166.23 L551.5 170.31 L552.5 174.32 L553.5 178.24 L554.5 182.07 L555.5 185.79 L556.5 189.40 L557.5 192.89 L558.5 196.27 L559.5 199.52 L560.5 202.66 L561.5 205.68 L562.5 208.59 L563.5 211.40 L564.5 214.09 L565.5 216.69 L566.5 219.18 L567.5 221.59 L568.5 223.90 L569.5 226.13 L570.5 228.28 L571.5 230.34 L572.5 232.34 L573.5 234.26 L574.5 236.11 L575.5 237.89 L576.5 239.62 L577.5 241.28 L578.5 242.89 L579.5 244.44 L580.5 245.95 L581.5 247.40 L582.5 248.80 L583.5 250.16 L584.5 251.48 L585.5 252.75 L586.5 253.98 L587.5 255.18" stroke="#f0f" stroke-width="1.25" fill="none" stroke-linejoin="round"/>
</g>
<defs><clipPath id="cp"><rect x="87.5" y="62.5" width="500.1" height="374.3"/></clipPath></defs>
<path d="M87.5 62.5H587.6" stroke="#000" stroke-width="1.15" fill="none" stroke-linecap="square"/>
<path d="M87.5 436.90000000000003H587.6" stroke="#000" stroke-width="1.35" fill="none" stroke-linecap="square"/>
<path d="M87.5 62.5V436.8" stroke="#000" stroke-width="1.05" fill="none"/>
<path d="M587.6 62.5V436.8" stroke="#000" stroke-width="1.1" fill="none"/>
<g font-family="'Liberation Serif', serif" font-size="19.2" fill="#000" stroke="#000" stroke-width="0.55" stroke-linejoin="round">
<text y="40.5"><tspan x="239.12" textLength="53.74" lengthAdjust="spacingAndGlyphs">OGLE</tspan><tspan x="293.63" textLength="6.25" lengthAdjust="spacingAndGlyphs">-</tspan><tspan x="300.82" textLength="40.44" lengthAdjust="spacingAndGlyphs">2026</tspan><tspan x="341.82" textLength="6.4" lengthAdjust="spacingAndGlyphs">-</tspan><tspan x="349.06" textLength="40.35" lengthAdjust="spacingAndGlyphs">BLG</tspan><tspan x="389.63" textLength="6.25" lengthAdjust="spacingAndGlyphs">-</tspan><tspan x="396.81" textLength="39.4" lengthAdjust="spacingAndGlyphs">0030</tspan></text>
<text y="491.3"><tspan x="272.39" textLength="40.44" lengthAdjust="spacingAndGlyphs">HJD</tspan> <tspan x="318.69" textLength="5.31" lengthAdjust="spacingAndGlyphs">-</tspan> <tspan x="329.66" textLength="72.58" lengthAdjust="spacingAndGlyphs">2450000</tspan></text>
<text y="462.8"><tspan x="88.51" textLength="52.0" lengthAdjust="spacingAndGlyphs">10800</tspan></text>
<text y="462.8"><tspan x="234.51" textLength="52.0" lengthAdjust="spacingAndGlyphs">10900</tspan></text>
<text y="462.8"><tspan x="380.49" textLength="51.95" lengthAdjust="spacingAndGlyphs">11000</tspan></text>
<text y="462.8"><tspan x="526.28" textLength="52.37" lengthAdjust="spacingAndGlyphs">11100</tspan></text>
<text y="112.8"><tspan x="41.35" textLength="36.65" lengthAdjust="spacingAndGlyphs">16.5</tspan></text>
<text y="203.7"><tspan x="56.66" textLength="21.19" lengthAdjust="spacingAndGlyphs">17</tspan></text>
<text y="294.6"><tspan x="41.35" textLength="36.65" lengthAdjust="spacingAndGlyphs">17.5</tspan></text>
<text y="385.5"><tspan x="56.65" textLength="21.34" lengthAdjust="spacingAndGlyphs">18</tspan></text>
<g transform="translate(27.1 301.6) rotate(-90)"><text y="0"><tspan x="-0.39" textLength="6.65" lengthAdjust="spacingAndGlyphs">I</tspan> <tspan x="11.86" textLength="93.23" lengthAdjust="spacingAndGlyphs">magnitude</tspan></text></g>
</g>
</svg>
</body></html>
